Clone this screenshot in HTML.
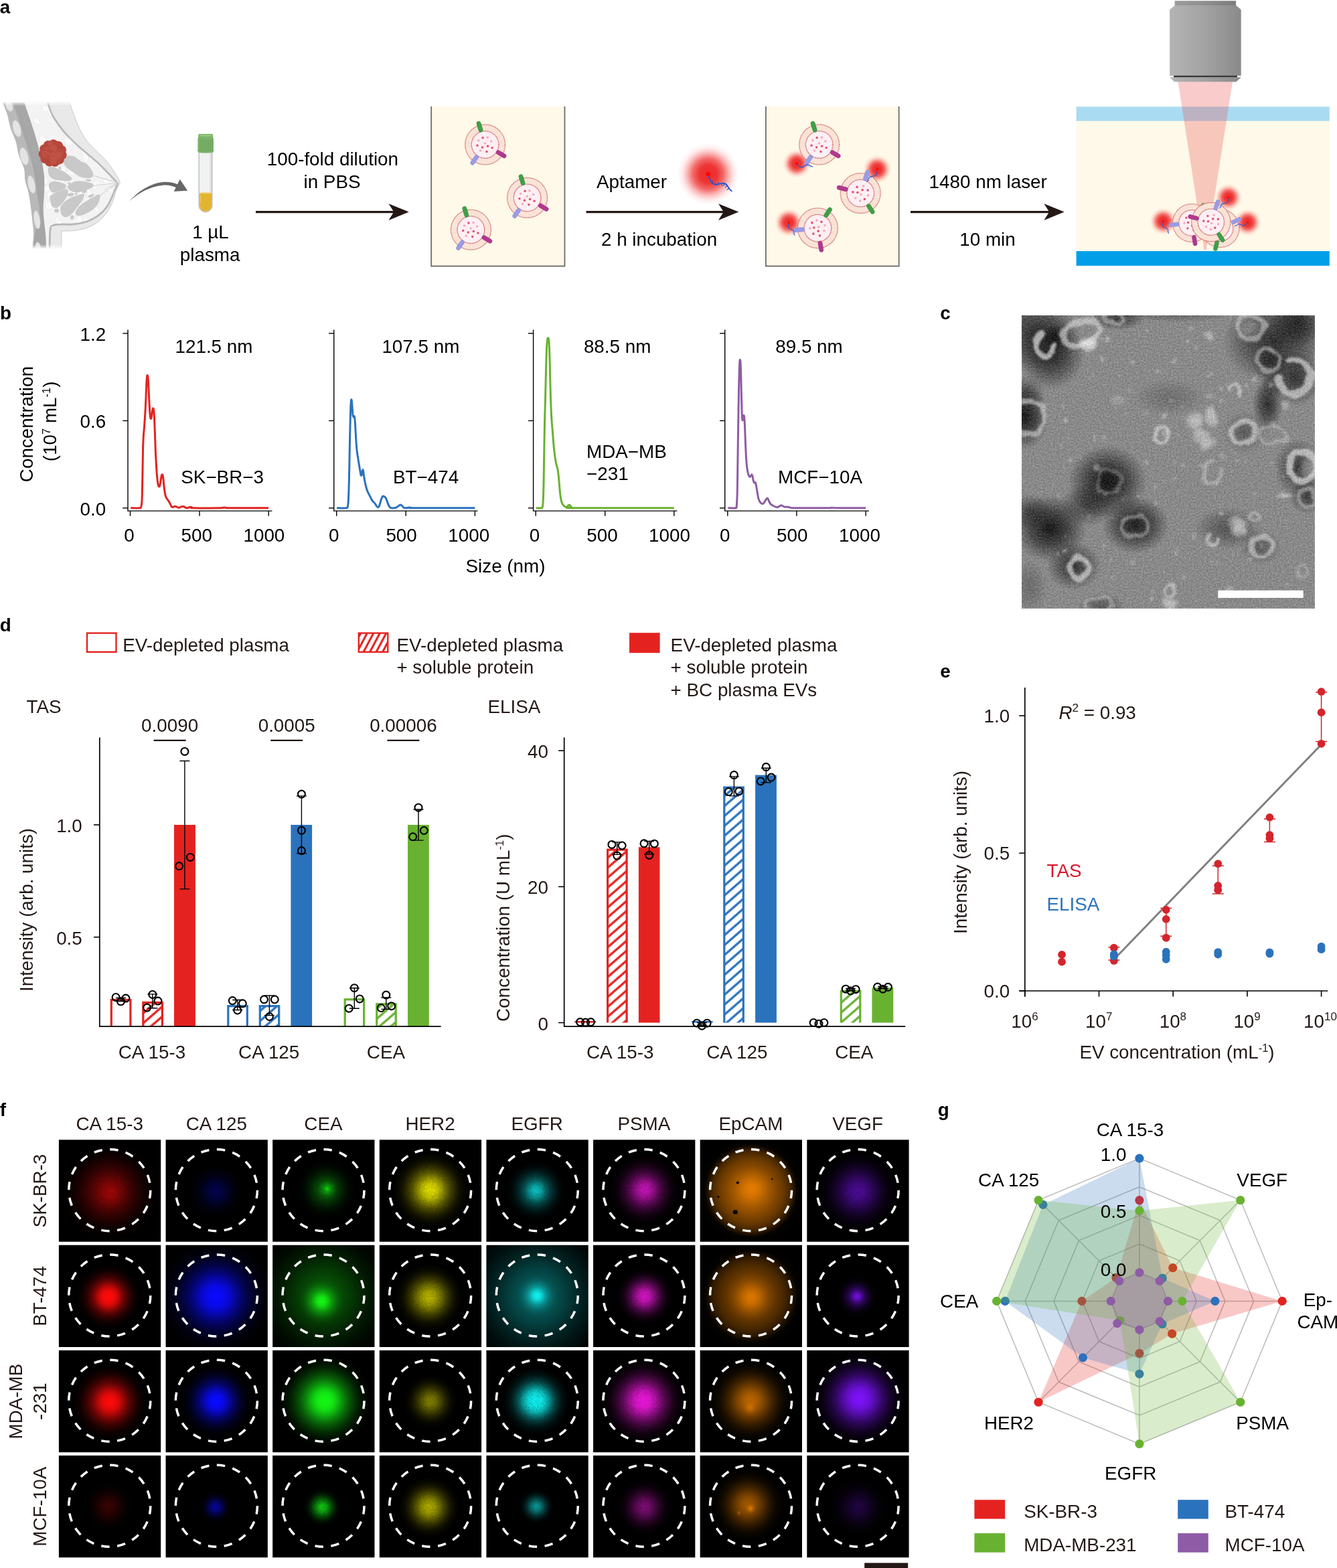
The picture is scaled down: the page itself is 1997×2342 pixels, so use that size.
<!DOCTYPE html>
<html lang="en">
<head>
<meta charset="utf-8">
<title>Figure</title>
<style>
html,body{margin:0;padding:0;background:#fff;}
body{width:1997px;height:2342px;overflow:hidden;}
svg{display:block;}
</style>
</head>
<body>
<svg width="1997" height="2342" viewBox="0 0 1997 2342" font-family="'Liberation Sans', sans-serif" font-size="27.8">
<defs>
<radialGradient id="glow"><stop offset="0" stop-color="#ec2828" stop-opacity="1"/><stop offset="0.3" stop-color="#ec2c2c" stop-opacity="0.95"/><stop offset="0.5" stop-color="#ee3030" stop-opacity="0.72"/><stop offset="0.7" stop-color="#f03838" stop-opacity="0.32"/><stop offset="0.85" stop-color="#f44" stop-opacity="0.1"/><stop offset="1" stop-color="#f55" stop-opacity="0"/></radialGradient>
<linearGradient id="objg" x1="0" x2="1" y1="0" y2="0"><stop offset="0" stop-color="#b4b4b4"/><stop offset="0.5" stop-color="#a2a2a2"/><stop offset="1" stop-color="#8a8a8a"/></linearGradient>
<linearGradient id="fadeT" x1="0" x2="0" y1="0" y2="1"><stop offset="0" stop-color="#fff" stop-opacity="1"/><stop offset="1" stop-color="#fff" stop-opacity="0"/></linearGradient>
<linearGradient id="fadeB" x1="0" x2="0" y1="0" y2="1"><stop offset="0" stop-color="#fff" stop-opacity="0"/><stop offset="1" stop-color="#fff" stop-opacity="1"/></linearGradient>
<linearGradient id="lav" x1="0" x2="0" y1="0" y2="1"><stop offset="0" stop-color="#8f8fdc"/><stop offset="1" stop-color="#a3a4ea"/></linearGradient>
<g id="ev"><circle r="29.9" fill="#fdf0e5"/><circle r="25.1" fill="none" stroke="#f3c6b7" stroke-width="9.2" stroke-dasharray="0.5 1.1"/><circle r="29.9" fill="none" stroke="#c8575a" stroke-width="1.3" stroke-dasharray="1.1 0.75"/><circle r="20.3" fill="#fdeff3" stroke="#c8575a" stroke-width="1.3" stroke-dasharray="1.1 0.6"/><circle cx="-3.5" cy="-10.2" r="1.75" fill="#e14f6e"/><circle cx="-11.7" cy="1.3" r="1.75" fill="#e14f6e"/><circle cx="-4.2" cy="3.9" r="1.75" fill="#e14f6e"/><circle cx="3.9" cy="2.2" r="1.75" fill="#e14f6e"/><circle cx="10.5" cy="4.8" r="1.75" fill="#e14f6e"/><circle cx="2.3" cy="10.4" r="1.75" fill="#e14f6e"/><circle cx="3.6" cy="-10.7" r="1.75" fill="#f5a9bb"/><circle cx="-9.8" cy="-6.2" r="1.75" fill="#f5a9bb"/><circle cx="9.1" cy="-4.9" r="1.75" fill="#f5a9bb"/><circle cx="-0.3" cy="-2.1" r="1.75" fill="#f5a9bb"/><circle cx="-7.2" cy="9.1" r="1.75" fill="#f5a9bb"/><rect x="19.6" y="-3.1" width="16.6" height="6.2" rx="3.1" fill="#3f9f46" stroke="#36873c" stroke-width="0.5" transform="rotate(-106.8)"/><rect x="19.6" y="-3.1" width="16.6" height="6.2" rx="3.1" fill="#b0378f" stroke="#942c78" stroke-width="0.5" transform="rotate(30.7)"/><rect x="19.6" y="-3.1" width="16.6" height="6.2" rx="3.1" fill="#9a9be6" stroke="#8889d6" stroke-width="0.5" transform="rotate(-235.3)"/></g>
<g id="apt"><circle r="1.5" fill="#f00"/><path d="M0.5 1.5C1.5 6 4 8.5 7 7.5C10 6.5 12.5 6 14 8.5C15 10 16 12 17.5 12.5" fill="none" stroke="#1f55d8" stroke-width="0.9"/><path d="M2.5 6.5l1.2-1.6M4.8 8l0.8-1.8M7.2 7.6l0.3-1.9M9.6 6.8l0.6 1.9M11.8 6.6l-0.5 2M13.8 8.4l-1.3 1.4M15.2 10.6l-1.6 0.9" fill="none" stroke="#1f55d8" stroke-width="0.6"/></g>
<clipPath id="temclip"><rect x="1526.1" y="471.1" width="437.8" height="437.8"/></clipPath>
<filter id="temb1" x="-50%" y="-50%" width="200%" height="200%"><feGaussianBlur stdDeviation="9"/></filter>
<filter id="temb2" x="0" y="0" width="100%" height="100%"><feTurbulence type="fractalNoise" baseFrequency="0.045" numOctaves="2" seed="3" result="t"/><feDisplacementMap in="SourceGraphic" in2="t" scale="13" xChannelSelector="R" yChannelSelector="G" result="d"/><feGaussianBlur in="d" stdDeviation="1.6"/></filter>
<filter id="temn" x="0" y="0" width="100%" height="100%" color-interpolation-filters="sRGB"><feTurbulence type="fractalNoise" baseFrequency="0.42" numOctaves="2" seed="11" result="n"/><feColorMatrix in="n" type="matrix" values="1.4 0 0 0 -0.2  1.4 0 0 0 -0.2  1.4 0 0 0 -0.2  0 0 0 0 0.2"/></filter>
<radialGradient id="temd"><stop offset="0" stop-color="#000" stop-opacity="1"/><stop offset="0.5" stop-color="#000" stop-opacity="0.6"/><stop offset="1" stop-color="#000" stop-opacity="0"/></radialGradient>
<radialGradient id="teml"><stop offset="0" stop-color="#fff" stop-opacity="1"/><stop offset="0.6" stop-color="#fff" stop-opacity="0.7"/><stop offset="1" stop-color="#fff" stop-opacity="0"/></radialGradient>
<pattern id="h0" width="30" height="11.2" patternUnits="userSpaceOnUse" patternTransform="rotate(-41)"><rect width="30" height="11.2" fill="#fff"/><rect y="4" width="30" height="3.3" fill="#e42320"/></pattern>
<pattern id="h1" width="30" height="11.2" patternUnits="userSpaceOnUse" patternTransform="rotate(-41)"><rect width="30" height="11.2" fill="#fff"/><rect y="4" width="30" height="3.3" fill="#2b72bd"/></pattern>
<pattern id="h2" width="30" height="11.2" patternUnits="userSpaceOnUse" patternTransform="rotate(-41)"><rect width="30" height="11.2" fill="#fff"/><rect y="4" width="30" height="3.3" fill="#69b231"/></pattern>
<pattern id="hl" width="30" height="8.4" patternUnits="userSpaceOnUse" patternTransform="rotate(-62)"><rect width="30" height="8.4" fill="#fff"/><rect y="2.6" width="30" height="3.1" fill="#e42320"/></pattern>
<radialGradient id="fr"><stop offset="0" stop-color="#fa0a0a" stop-opacity="1"/><stop offset="0.1" stop-color="#fa0a0a" stop-opacity="0.96"/><stop offset="0.2" stop-color="#fa0a0a" stop-opacity="0.86"/><stop offset="0.3" stop-color="#fa0a0a" stop-opacity="0.71"/><stop offset="0.4" stop-color="#fa0a0a" stop-opacity="0.55"/><stop offset="0.5" stop-color="#fa0a0a" stop-opacity="0.39"/><stop offset="0.6" stop-color="#fa0a0a" stop-opacity="0.26"/><stop offset="0.7" stop-color="#fa0a0a" stop-opacity="0.15"/><stop offset="0.8" stop-color="#fa0a0a" stop-opacity="0.07"/><stop offset="0.9" stop-color="#fa0a0a" stop-opacity="0.03"/><stop offset="1" stop-color="#fa0a0a" stop-opacity="0"/></radialGradient>
<radialGradient id="fb"><stop offset="0" stop-color="#0a0aff" stop-opacity="1"/><stop offset="0.1" stop-color="#0a0aff" stop-opacity="0.96"/><stop offset="0.2" stop-color="#0a0aff" stop-opacity="0.86"/><stop offset="0.3" stop-color="#0a0aff" stop-opacity="0.71"/><stop offset="0.4" stop-color="#0a0aff" stop-opacity="0.55"/><stop offset="0.5" stop-color="#0a0aff" stop-opacity="0.39"/><stop offset="0.6" stop-color="#0a0aff" stop-opacity="0.26"/><stop offset="0.7" stop-color="#0a0aff" stop-opacity="0.15"/><stop offset="0.8" stop-color="#0a0aff" stop-opacity="0.07"/><stop offset="0.9" stop-color="#0a0aff" stop-opacity="0.03"/><stop offset="1" stop-color="#0a0aff" stop-opacity="0"/></radialGradient>
<radialGradient id="fg"><stop offset="0" stop-color="#14f514" stop-opacity="1"/><stop offset="0.1" stop-color="#14f514" stop-opacity="0.96"/><stop offset="0.2" stop-color="#14f514" stop-opacity="0.86"/><stop offset="0.3" stop-color="#14f514" stop-opacity="0.71"/><stop offset="0.4" stop-color="#14f514" stop-opacity="0.55"/><stop offset="0.5" stop-color="#14f514" stop-opacity="0.39"/><stop offset="0.6" stop-color="#14f514" stop-opacity="0.26"/><stop offset="0.7" stop-color="#14f514" stop-opacity="0.15"/><stop offset="0.8" stop-color="#14f514" stop-opacity="0.07"/><stop offset="0.9" stop-color="#14f514" stop-opacity="0.03"/><stop offset="1" stop-color="#14f514" stop-opacity="0"/></radialGradient>
<radialGradient id="fy"><stop offset="0" stop-color="#f4f000" stop-opacity="1"/><stop offset="0.1" stop-color="#f4f000" stop-opacity="0.96"/><stop offset="0.2" stop-color="#f4f000" stop-opacity="0.86"/><stop offset="0.3" stop-color="#f4f000" stop-opacity="0.71"/><stop offset="0.4" stop-color="#f4f000" stop-opacity="0.55"/><stop offset="0.5" stop-color="#f4f000" stop-opacity="0.39"/><stop offset="0.6" stop-color="#f4f000" stop-opacity="0.26"/><stop offset="0.7" stop-color="#f4f000" stop-opacity="0.15"/><stop offset="0.8" stop-color="#f4f000" stop-opacity="0.07"/><stop offset="0.9" stop-color="#f4f000" stop-opacity="0.03"/><stop offset="1" stop-color="#f4f000" stop-opacity="0"/></radialGradient>
<radialGradient id="fc"><stop offset="0" stop-color="#10f0f0" stop-opacity="1"/><stop offset="0.1" stop-color="#10f0f0" stop-opacity="0.96"/><stop offset="0.2" stop-color="#10f0f0" stop-opacity="0.86"/><stop offset="0.3" stop-color="#10f0f0" stop-opacity="0.71"/><stop offset="0.4" stop-color="#10f0f0" stop-opacity="0.55"/><stop offset="0.5" stop-color="#10f0f0" stop-opacity="0.39"/><stop offset="0.6" stop-color="#10f0f0" stop-opacity="0.26"/><stop offset="0.7" stop-color="#10f0f0" stop-opacity="0.15"/><stop offset="0.8" stop-color="#10f0f0" stop-opacity="0.07"/><stop offset="0.9" stop-color="#10f0f0" stop-opacity="0.03"/><stop offset="1" stop-color="#10f0f0" stop-opacity="0"/></radialGradient>
<radialGradient id="fm"><stop offset="0" stop-color="#ee18dc" stop-opacity="1"/><stop offset="0.1" stop-color="#ee18dc" stop-opacity="0.96"/><stop offset="0.2" stop-color="#ee18dc" stop-opacity="0.86"/><stop offset="0.3" stop-color="#ee18dc" stop-opacity="0.71"/><stop offset="0.4" stop-color="#ee18dc" stop-opacity="0.55"/><stop offset="0.5" stop-color="#ee18dc" stop-opacity="0.39"/><stop offset="0.6" stop-color="#ee18dc" stop-opacity="0.26"/><stop offset="0.7" stop-color="#ee18dc" stop-opacity="0.15"/><stop offset="0.8" stop-color="#ee18dc" stop-opacity="0.07"/><stop offset="0.9" stop-color="#ee18dc" stop-opacity="0.03"/><stop offset="1" stop-color="#ee18dc" stop-opacity="0"/></radialGradient>
<radialGradient id="fo"><stop offset="0" stop-color="#ff8a00" stop-opacity="1"/><stop offset="0.1" stop-color="#ff8a00" stop-opacity="0.96"/><stop offset="0.2" stop-color="#ff8a00" stop-opacity="0.86"/><stop offset="0.3" stop-color="#ff8a00" stop-opacity="0.71"/><stop offset="0.4" stop-color="#ff8a00" stop-opacity="0.55"/><stop offset="0.5" stop-color="#ff8a00" stop-opacity="0.39"/><stop offset="0.6" stop-color="#ff8a00" stop-opacity="0.26"/><stop offset="0.7" stop-color="#ff8a00" stop-opacity="0.15"/><stop offset="0.8" stop-color="#ff8a00" stop-opacity="0.07"/><stop offset="0.9" stop-color="#ff8a00" stop-opacity="0.03"/><stop offset="1" stop-color="#ff8a00" stop-opacity="0"/></radialGradient>
<radialGradient id="fv"><stop offset="0" stop-color="#7c12f8" stop-opacity="1"/><stop offset="0.1" stop-color="#7c12f8" stop-opacity="0.96"/><stop offset="0.2" stop-color="#7c12f8" stop-opacity="0.86"/><stop offset="0.3" stop-color="#7c12f8" stop-opacity="0.71"/><stop offset="0.4" stop-color="#7c12f8" stop-opacity="0.55"/><stop offset="0.5" stop-color="#7c12f8" stop-opacity="0.39"/><stop offset="0.6" stop-color="#7c12f8" stop-opacity="0.26"/><stop offset="0.7" stop-color="#7c12f8" stop-opacity="0.15"/><stop offset="0.8" stop-color="#7c12f8" stop-opacity="0.07"/><stop offset="0.9" stop-color="#7c12f8" stop-opacity="0.03"/><stop offset="1" stop-color="#7c12f8" stop-opacity="0"/></radialGradient>
<radialGradient id="do"><stop offset="0" stop-color="#ff8a00" stop-opacity="1"/><stop offset="0.45" stop-color="#ff8a00" stop-opacity="0.9"/><stop offset="0.7" stop-color="#ff8a00" stop-opacity="0.72"/><stop offset="0.85" stop-color="#ff8a00" stop-opacity="0.5"/><stop offset="0.93" stop-color="#ff8a00" stop-opacity="0.25"/><stop offset="1" stop-color="#ff8a00" stop-opacity="0"/></radialGradient>
<radialGradient id="dg"><stop offset="0" stop-color="#14f514" stop-opacity="1"/><stop offset="0.45" stop-color="#14f514" stop-opacity="0.9"/><stop offset="0.7" stop-color="#14f514" stop-opacity="0.72"/><stop offset="0.85" stop-color="#14f514" stop-opacity="0.5"/><stop offset="0.93" stop-color="#14f514" stop-opacity="0.25"/><stop offset="1" stop-color="#14f514" stop-opacity="0"/></radialGradient>
<radialGradient id="dc"><stop offset="0" stop-color="#10f0f0" stop-opacity="1"/><stop offset="0.45" stop-color="#10f0f0" stop-opacity="0.9"/><stop offset="0.7" stop-color="#10f0f0" stop-opacity="0.72"/><stop offset="0.85" stop-color="#10f0f0" stop-opacity="0.5"/><stop offset="0.93" stop-color="#10f0f0" stop-opacity="0.25"/><stop offset="1" stop-color="#10f0f0" stop-opacity="0"/></radialGradient>
<clipPath id="t00"><rect x="87.9" y="1702.4" width="152.3" height="152.3"/></clipPath>
<clipPath id="t01"><rect x="247.53" y="1702.4" width="152.3" height="152.3"/></clipPath>
<clipPath id="t02"><rect x="407.16" y="1702.4" width="152.3" height="152.3"/></clipPath>
<clipPath id="t03"><rect x="566.79" y="1702.4" width="152.3" height="152.3"/></clipPath>
<clipPath id="t04"><rect x="726.42" y="1702.4" width="152.3" height="152.3"/></clipPath>
<clipPath id="t05"><rect x="886.05" y="1702.4" width="152.3" height="152.3"/></clipPath>
<clipPath id="t06"><rect x="1045.68" y="1702.4" width="152.3" height="152.3"/></clipPath>
<clipPath id="t07"><rect x="1205.31" y="1702.4" width="152.3" height="152.3"/></clipPath>
<clipPath id="t10"><rect x="87.9" y="1859.7" width="152.3" height="152.3"/></clipPath>
<clipPath id="t11"><rect x="247.53" y="1859.7" width="152.3" height="152.3"/></clipPath>
<clipPath id="t12"><rect x="407.16" y="1859.7" width="152.3" height="152.3"/></clipPath>
<clipPath id="t13"><rect x="566.79" y="1859.7" width="152.3" height="152.3"/></clipPath>
<clipPath id="t14"><rect x="726.42" y="1859.7" width="152.3" height="152.3"/></clipPath>
<clipPath id="t15"><rect x="886.05" y="1859.7" width="152.3" height="152.3"/></clipPath>
<clipPath id="t16"><rect x="1045.68" y="1859.7" width="152.3" height="152.3"/></clipPath>
<clipPath id="t17"><rect x="1205.31" y="1859.7" width="152.3" height="152.3"/></clipPath>
<clipPath id="t20"><rect x="87.9" y="2016.9" width="152.3" height="152.3"/></clipPath>
<clipPath id="t21"><rect x="247.53" y="2016.9" width="152.3" height="152.3"/></clipPath>
<clipPath id="t22"><rect x="407.16" y="2016.9" width="152.3" height="152.3"/></clipPath>
<clipPath id="t23"><rect x="566.79" y="2016.9" width="152.3" height="152.3"/></clipPath>
<clipPath id="t24"><rect x="726.42" y="2016.9" width="152.3" height="152.3"/></clipPath>
<clipPath id="t25"><rect x="886.05" y="2016.9" width="152.3" height="152.3"/></clipPath>
<clipPath id="t26"><rect x="1045.68" y="2016.9" width="152.3" height="152.3"/></clipPath>
<clipPath id="t27"><rect x="1205.31" y="2016.9" width="152.3" height="152.3"/></clipPath>
<clipPath id="t30"><rect x="87.9" y="2174" width="152.3" height="152.3"/></clipPath>
<clipPath id="t31"><rect x="247.53" y="2174" width="152.3" height="152.3"/></clipPath>
<clipPath id="t32"><rect x="407.16" y="2174" width="152.3" height="152.3"/></clipPath>
<clipPath id="t33"><rect x="566.79" y="2174" width="152.3" height="152.3"/></clipPath>
<clipPath id="t34"><rect x="726.42" y="2174" width="152.3" height="152.3"/></clipPath>
<clipPath id="t35"><rect x="886.05" y="2174" width="152.3" height="152.3"/></clipPath>
<clipPath id="t36"><rect x="1045.68" y="2174" width="152.3" height="152.3"/></clipPath>
<clipPath id="t37"><rect x="1205.31" y="2174" width="152.3" height="152.3"/></clipPath>
<filter id="grain" x="0" y="0" width="100%" height="100%" color-interpolation-filters="sRGB"><feTurbulence type="fractalNoise" baseFrequency="0.9" numOctaves="2" seed="7" result="n"/><feColorMatrix in="n" type="matrix" values="0 0 0 0 0  0 0 0 0 0  0 0 0 0 0  1.3 0 0 0 0.38" result="a"/><feComposite in="SourceGraphic" in2="a" operator="in"/></filter>
</defs>
<rect width="1997" height="2342" fill="#fff"/>
<g fill="#231815">
<g id="panel-a">
<text x="-0.2" y="20.1" font-weight="bold" fill="#000">a</text>
<g transform="translate(0 145) scale(0.11344)"><path d="M915 70C922.5 91.67 940.83 148.33 960 200C979.17 251.67 1001.67 320 1030 380C1058.33 440 1091.67 506.67 1130 560C1168.33 613.33 1216.67 655 1260 700C1303.33 745 1353.33 788.33 1390 830C1426.67 871.67 1454.17 913.33 1480 950C1505.83 986.67 1529.67 1024.17 1545 1050C1560.33 1075.83 1566.5 1090.83 1572 1105C1577.5 1119.17 1581.17 1122.83 1578 1135C1574.83 1147.17 1561.83 1159.67 1553 1178C1544.17 1196.33 1537.17 1210.08 1525 1245C1512.83 1279.92 1500.83 1340.07 1480 1387.53C1459.17 1434.99 1433.33 1486 1400 1529.76C1366.67 1573.53 1325 1617.29 1280 1650.12C1235 1682.94 1183.33 1708.47 1130 1726.71C1076.67 1744.94 1011.67 1753.15 960 1759.53C908.33 1765.91 845 1760.83 820 1765C795 1769.17 811.67 1746.54 810 1784.54C808.33 1822.54 810 1958.26 810 1993L430 1993C432.5 1960.43 445 1858.37 445 1797.57C445 1736.78 435.83 1685.63 430 1628.24C424.17 1570.84 418.33 1514.55 410 1453.18C401.67 1391.8 392.5 1318.86 380 1260C367.5 1201.14 345 1153.33 335 1100C325 1046.67 334.17 996.67 320 940C305.83 883.33 268.33 820 250 760C231.67 700 228.33 640 210 580C191.67 520 158.33 458.33 140 400C121.67 341.67 115.83 282.5 100 230C84.17 177.5 55 111.67 45 85C35 58.33 40.83 72.5 40 70Z" fill="#e9e9e9" stroke="#bcbcbc" stroke-width="7" stroke-linejoin="round"/><path d="M640 70C648.33 93.33 668.33 165 690 210C711.67 255 738.33 295 770 340C801.67 385 840 435 880 480C920 525 963.33 566.67 1010 610C1056.67 653.33 1111.67 698.33 1160 740C1208.33 781.67 1256.67 820 1300 860C1343.33 900 1385.83 945 1420 980C1454.17 1015 1483.33 1046.33 1505 1070C1526.67 1093.67 1541.5 1108.33 1550 1122C1558.5 1135.67 1561.83 1131.5 1556 1152C1550.17 1172.5 1531 1207.57 1515 1245C1499 1282.43 1480.83 1336.42 1460 1376.59C1439.17 1416.75 1420 1451.35 1390 1486C1360 1520.65 1323.33 1556.21 1280 1584.47C1236.67 1612.74 1183.33 1638.26 1130 1655.59C1076.67 1672.91 1015 1682.94 960 1688.41C905 1693.88 841.67 1686.59 800 1688.41C758.33 1690.24 730.83 1691.15 710 1699.35C689.17 1707.56 682.5 1688.71 675 1737.65C667.5 1786.59 666.67 1950.44 665 1993L430 1993C432.5 1960.43 445 1858.37 445 1797.57C445 1736.78 435.83 1685.63 430 1628.24C424.17 1570.84 418.33 1514.55 410 1453.18C401.67 1391.8 392.5 1318.86 380 1260C367.5 1201.14 345 1153.33 335 1100C325 1046.67 334.17 996.67 320 940C305.83 883.33 268.33 820 250 760C231.67 700 228.33 640 210 580C191.67 520 158.33 458.33 140 400C121.67 341.67 115.83 282.5 100 230C84.17 177.5 55 111.67 45 85C35 58.33 40.83 72.5 40 70Z" fill="#b8b8b8" stroke-linejoin="round"/><path d="M617.4 70C625.89 95.07 646.21 173.11 668.38 220.41C690.54 267.71 718.09 307.89 750.37 353.81C782.65 399.73 821.51 450.32 862.06 495.94C902.61 541.57 946.62 583.88 993.67 627.59C1040.71 671.29 1095.99 716.5 1144.33 758.18C1192.67 799.85 1240.64 837.87 1283.72 877.64C1326.8 917.4 1368.9 962 1402.83 996.76C1436.76 1031.53 1466.17 1063.22 1487.3 1086.21C1508.43 1109.19 1522.02 1124.8 1529.62 1134.68C1537.22 1144.55 1539.01 1128.66 1532.92 1145.43C1526.82 1162.21 1508.68 1198.93 1493.04 1235.33C1477.39 1271.73 1459.1 1325.07 1439.02 1363.84C1418.94 1402.6 1401.13 1434.93 1372.58 1467.94C1344.03 1500.95 1309.28 1534.84 1267.71 1561.92C1226.14 1588.99 1174.82 1613.69 1123.17 1630.42C1071.52 1647.14 1011.85 1656.97 957.83 1662.26C903.81 1667.55 841.7 1660.11 799.04 1662.17C756.38 1664.24 726.47 1662.89 701.87 1674.65C677.27 1686.4 661.57 1679.65 651.43 1732.71C641.29 1785.77 642.76 1949.62 641.03 1993L430 1993C432.5 1960.43 445 1858.37 445 1797.57C445 1736.78 435.83 1685.63 430 1628.24C424.17 1570.84 418.33 1514.55 410 1453.18C401.67 1391.8 392.5 1318.86 380 1260C367.5 1201.14 345 1153.33 335 1100C325 1046.67 334.17 996.67 320 940C305.83 883.33 268.33 820 250 760C231.67 700 228.33 640 210 580C191.67 520 158.33 458.33 140 400C121.67 341.67 115.83 282.5 100 230C84.17 177.5 55 111.67 45 85C35 58.33 40.83 72.5 40 70Z" fill="#f3f3f3" stroke-linejoin="round"/><clipPath id="fatc"><path d="M617.4 70C625.89 95.07 646.21 173.11 668.38 220.41C690.54 267.71 718.09 307.89 750.37 353.81C782.65 399.73 821.51 450.32 862.06 495.94C902.61 541.57 946.62 583.88 993.67 627.59C1040.71 671.29 1095.99 716.5 1144.33 758.18C1192.67 799.85 1240.64 837.87 1283.72 877.64C1326.8 917.4 1368.9 962 1402.83 996.76C1436.76 1031.53 1466.17 1063.22 1487.3 1086.21C1508.43 1109.19 1522.02 1124.8 1529.62 1134.68C1537.22 1144.55 1539.01 1128.66 1532.92 1145.43C1526.82 1162.21 1508.68 1198.93 1493.04 1235.33C1477.39 1271.73 1459.1 1325.07 1439.02 1363.84C1418.94 1402.6 1401.13 1434.93 1372.58 1467.94C1344.03 1500.95 1309.28 1534.84 1267.71 1561.92C1226.14 1588.99 1174.82 1613.69 1123.17 1630.42C1071.52 1647.14 1011.85 1656.97 957.83 1662.26C903.81 1667.55 841.7 1660.11 799.04 1662.17C756.38 1664.24 726.47 1662.89 701.87 1674.65C677.27 1686.4 661.57 1679.65 651.43 1732.71C641.29 1785.77 642.76 1949.62 641.03 1993L610 1993C608.33 1960.43 605 1858.37 600 1797.57C595 1736.78 585 1683.81 580 1628.24C575 1572.66 570 1518.82 570 1464.12C570 1409.41 577.5 1360.69 580 1300C582.5 1239.31 586.67 1158.33 585 1100C583.33 1041.67 577.5 1000 570 950C562.5 900 553.33 858.33 540 800C526.67 741.67 506.67 661.67 490 600C473.33 538.33 458.33 488.33 440 430C421.67 371.67 400 310 380 250C360 190 330 100 320 70Z"/></clipPath><g clip-path="url(#fatc)" fill="#fafafa" stroke="#e6e6e6" stroke-width="5"><ellipse cx="1084" cy="1284" rx="40" ry="68" transform="rotate(-15 1084 1284)"/><ellipse cx="1374" cy="194" rx="34" ry="68" transform="rotate(-21 1374 194)"/><ellipse cx="1353" cy="323" rx="34" ry="47" transform="rotate(-27 1353 323)"/><ellipse cx="1036" cy="170" rx="29" ry="48" transform="rotate(-5 1036 170)"/><ellipse cx="1222" cy="394" rx="40" ry="44" transform="rotate(-22 1222 394)"/><ellipse cx="602" cy="152" rx="42" ry="46" transform="rotate(-47 602 152)"/><ellipse cx="1432" cy="1484" rx="30" ry="68" transform="rotate(-27 1432 1484)"/><ellipse cx="1137" cy="463" rx="43" ry="60" transform="rotate(-2 1137 463)"/><ellipse cx="1346" cy="607" rx="32" ry="44" transform="rotate(-51 1346 607)"/><ellipse cx="543" cy="611" rx="37" ry="40" transform="rotate(-19 543 611)"/><ellipse cx="807" cy="624" rx="41" ry="54" transform="rotate(-41 807 624)"/><ellipse cx="946" cy="1228" rx="26" ry="69" transform="rotate(-58 946 1228)"/><ellipse cx="1207" cy="1442" rx="25" ry="63" transform="rotate(-38 1207 1442)"/><ellipse cx="1041" cy="163" rx="25" ry="45" transform="rotate(-2 1041 163)"/><ellipse cx="670" cy="1306" rx="43" ry="68" transform="rotate(-39 670 1306)"/><ellipse cx="824" cy="952" rx="40" ry="43" transform="rotate(-15 824 952)"/><ellipse cx="1253" cy="1465" rx="25" ry="68" transform="rotate(-54 1253 1465)"/><ellipse cx="810" cy="1084" rx="43" ry="50" transform="rotate(-4 810 1084)"/><ellipse cx="1008" cy="628" rx="31" ry="45" transform="rotate(-55 1008 628)"/><ellipse cx="624" cy="1204" rx="44" ry="44" transform="rotate(-57 624 1204)"/><ellipse cx="1437" cy="966" rx="33" ry="47" transform="rotate(-24 1437 966)"/><ellipse cx="1281" cy="847" rx="33" ry="41" transform="rotate(-5 1281 847)"/><ellipse cx="511" cy="905" rx="41" ry="43" transform="rotate(-16 511 905)"/><ellipse cx="1401" cy="1114" rx="40" ry="43" transform="rotate(-33 1401 1114)"/><ellipse cx="624" cy="1442" rx="30" ry="53" transform="rotate(0 624 1442)"/><ellipse cx="1306" cy="1643" rx="34" ry="54" transform="rotate(-16 1306 1643)"/><ellipse cx="944" cy="595" rx="33" ry="44" transform="rotate(-37 944 595)"/><ellipse cx="1438" cy="1618" rx="37" ry="54" transform="rotate(-39 1438 1618)"/><ellipse cx="566" cy="566" rx="40" ry="66" transform="rotate(-38 566 566)"/><ellipse cx="1242" cy="1335" rx="38" ry="59" transform="rotate(-14 1242 1335)"/><ellipse cx="832" cy="1227" rx="30" ry="54" transform="rotate(-13 832 1227)"/><ellipse cx="1150" cy="599" rx="43" ry="59" transform="rotate(-25 1150 599)"/><ellipse cx="491" cy="986" rx="30" ry="60" transform="rotate(-32 491 986)"/><ellipse cx="1272" cy="1140" rx="40" ry="50" transform="rotate(-21 1272 1140)"/><ellipse cx="1195" cy="1417" rx="32" ry="65" transform="rotate(-7 1195 1417)"/><ellipse cx="1147" cy="1643" rx="44" ry="55" transform="rotate(-28 1147 1643)"/><ellipse cx="641" cy="1430" rx="43" ry="54" transform="rotate(-18 641 1430)"/><ellipse cx="1178" cy="1267" rx="28" ry="63" transform="rotate(-25 1178 1267)"/><ellipse cx="1125" cy="793" rx="37" ry="63" transform="rotate(-21 1125 793)"/><ellipse cx="1178" cy="192" rx="28" ry="53" transform="rotate(-20 1178 192)"/><ellipse cx="692" cy="1199" rx="37" ry="41" transform="rotate(-31 692 1199)"/><ellipse cx="699" cy="232" rx="27" ry="49" transform="rotate(-49 699 232)"/><ellipse cx="667" cy="204" rx="34" ry="51" transform="rotate(-23 667 204)"/><ellipse cx="1052" cy="513" rx="43" ry="40" transform="rotate(-35 1052 513)"/><ellipse cx="750" cy="777" rx="27" ry="64" transform="rotate(-37 750 777)"/><ellipse cx="514" cy="1088" rx="26" ry="56" transform="rotate(-39 514 1088)"/><ellipse cx="1043" cy="1616" rx="41" ry="52" transform="rotate(-11 1043 1616)"/><ellipse cx="1103" cy="715" rx="27" ry="57" transform="rotate(-26 1103 715)"/><ellipse cx="1408" cy="1631" rx="37" ry="50" transform="rotate(-6 1408 1631)"/><ellipse cx="480" cy="315" rx="36" ry="58" transform="rotate(-51 480 315)"/><ellipse cx="1090" cy="1513" rx="32" ry="52" transform="rotate(-46 1090 1513)"/><ellipse cx="762" cy="1637" rx="32" ry="68" transform="rotate(-5 762 1637)"/><ellipse cx="1057" cy="547" rx="44" ry="54" transform="rotate(-35 1057 547)"/><ellipse cx="789" cy="1655" rx="34" ry="48" transform="rotate(-31 789 1655)"/><ellipse cx="598" cy="1101" rx="33" ry="48" transform="rotate(-13 598 1101)"/><ellipse cx="1282" cy="170" rx="35" ry="48" transform="rotate(-3 1282 170)"/><ellipse cx="1238" cy="525" rx="30" ry="44" transform="rotate(0 1238 525)"/><ellipse cx="764" cy="1080" rx="34" ry="59" transform="rotate(-23 764 1080)"/><ellipse cx="1201" cy="330" rx="40" ry="49" transform="rotate(-27 1201 330)"/><ellipse cx="806" cy="604" rx="35" ry="53" transform="rotate(-38 806 604)"/><ellipse cx="1202" cy="1053" rx="25" ry="47" transform="rotate(-32 1202 1053)"/><ellipse cx="1369" cy="1508" rx="35" ry="40" transform="rotate(-13 1369 1508)"/><ellipse cx="894" cy="1030" rx="39" ry="58" transform="rotate(-31 894 1030)"/><ellipse cx="1364" cy="739" rx="32" ry="65" transform="rotate(-48 1364 739)"/><ellipse cx="767" cy="1419" rx="26" ry="65" transform="rotate(-18 767 1419)"/><ellipse cx="899" cy="588" rx="40" ry="67" transform="rotate(-51 899 588)"/><ellipse cx="944" cy="990" rx="34" ry="49" transform="rotate(-50 944 990)"/><ellipse cx="1048" cy="1392" rx="26" ry="46" transform="rotate(-10 1048 1392)"/><ellipse cx="1247" cy="1165" rx="25" ry="61" transform="rotate(-1 1247 1165)"/><ellipse cx="1448" cy="1222" rx="25" ry="65" transform="rotate(-46 1448 1222)"/></g><path d="M320 70C330 100 360 190 380 250C400 310 421.67 371.67 440 430C458.33 488.33 473.33 538.33 490 600C506.67 661.67 526.67 741.67 540 800C553.33 858.33 562.5 900 570 950C577.5 1000 583.33 1041.67 585 1100C586.67 1158.33 582.5 1239.31 580 1300C577.5 1360.69 570 1409.41 570 1464.12C570 1518.82 575 1572.66 580 1628.24C585 1683.81 595 1736.78 600 1797.57C605 1858.37 608.33 1960.43 610 1993L430 1993C432.5 1960.43 445 1858.37 445 1797.57C445 1736.78 435.83 1685.63 430 1628.24C424.17 1570.84 418.33 1514.55 410 1453.18C401.67 1391.8 392.5 1318.86 380 1260C367.5 1201.14 345 1153.33 335 1100C325 1046.67 334.17 996.67 320 940C305.83 883.33 268.33 820 250 760C231.67 700 228.33 640 210 580C191.67 520 158.33 458.33 140 400C121.67 341.67 115.83 282.5 100 230C84.17 177.5 55 111.67 45 85C35 58.33 40.83 72.5 40 70Z" fill="#a6a6a6" stroke-linejoin="round"/><path d="M170 70C180 101.67 210 196.67 230 260C250 323.33 270 386.67 290 450C310 513.33 330 576.67 350 640C370 703.33 393.33 770 410 830C426.67 890 440 946.67 450 1000C460 1053.33 463.33 1100 470 1150C476.67 1200 481.67 1247.65 490 1300C498.33 1352.35 518.33 1409.41 520 1464.12C521.67 1518.82 510 1572.66 500 1628.24C490 1683.81 470 1736.78 460 1797.57C450 1858.37 443.33 1960.43 440 1993L430 1993C432.5 1960.43 445 1858.37 445 1797.57C445 1736.78 435.83 1685.63 430 1628.24C424.17 1570.84 418.33 1514.55 410 1453.18C401.67 1391.8 392.5 1318.86 380 1260C367.5 1201.14 345 1153.33 335 1100C325 1046.67 334.17 996.67 320 940C305.83 883.33 268.33 820 250 760C231.67 700 228.33 640 210 580C191.67 520 158.33 458.33 140 400C121.67 341.67 115.83 282.5 100 230C84.17 177.5 55 111.67 45 85C35 58.33 40.83 72.5 40 70Z" fill="#b9b9b9" stroke-linejoin="round"/><path d="M250 70C330 300 420 600 480 900M300 70C380 330 470 640 520 960M200 150C300 420 400 760 450 1000M330 380l90-40M370 520l100-50M420 700l90-30M300 300l70 60M400 620l70 70M440 850l90 20" fill="none" stroke="#bdbdbd" stroke-width="4" opacity="0.6"/><ellipse cx="122" cy="115" rx="44" ry="75" transform="rotate(-18 122 115)" fill="#e4e4e4" stroke="#cfcfcf" stroke-width="6"/><ellipse cx="222" cy="415" rx="50" ry="112" transform="rotate(-15 222 415)" fill="#e4e4e4" stroke="#cfcfcf" stroke-width="6"/><ellipse cx="318" cy="780" rx="52" ry="115" transform="rotate(-14 318 780)" fill="#e4e4e4" stroke="#cfcfcf" stroke-width="6"/><ellipse cx="415" cy="1150" rx="46" ry="118" transform="rotate(-12 415 1150)" fill="#e4e4e4" stroke="#cfcfcf" stroke-width="6"/><ellipse cx="487" cy="1615" rx="40" ry="120" transform="rotate(-8 487 1615)" fill="#e4e4e4" stroke="#cfcfcf" stroke-width="6"/><ellipse cx="500" cy="1985" rx="34" ry="75" transform="rotate(-5 500 1985)" fill="#e4e4e4" stroke="#cfcfcf" stroke-width="6"/><path d="M900 775C913.33 777.5 953.33 777.5 980 790C1006.67 802.5 1035 835 1060 850C1085 865 1108.33 863.33 1130 880C1151.67 896.67 1175 928.33 1190 950C1205 971.67 1216.67 993.33 1220 1010C1223.33 1026.67 1221.67 1041.67 1210 1050C1198.33 1058.33 1176.67 1061.67 1150 1060C1123.33 1058.33 1081.67 1053.33 1050 1040C1018.33 1026.67 986.67 998.33 960 980C933.33 961.67 908.33 946.67 890 930C871.67 913.33 855 900 850 880C845 860 851.67 827.5 860 810C868.33 792.5 893.33 780.83 900 775Z" fill="#c9c9c9" stroke="#c9c9c9" stroke-width="14" stroke-linejoin="round"/><path d="M640 930C650 929.17 676.67 920 700 925C723.33 930 753.33 947.5 780 960C806.67 972.5 836.67 985 860 1000C883.33 1015 906.67 1036.67 920 1050C933.33 1063.33 946.67 1071.67 940 1080C933.33 1088.33 903.33 1098.33 880 1100C856.67 1101.67 826.67 1093.33 800 1090C773.33 1086.67 743.33 1088.33 720 1080C696.67 1071.67 673.33 1056.67 660 1040C646.67 1023.33 643.33 998.33 640 980C636.67 961.67 640 938.33 640 930Z" fill="#c9c9c9" stroke="#c9c9c9" stroke-width="14" stroke-linejoin="round"/><path d="M660 1130C670 1127.5 696.67 1115 720 1115C743.33 1115 776.67 1122.5 800 1130C823.33 1137.5 851.67 1148.33 860 1160C868.33 1171.67 863.33 1188.33 850 1200C836.67 1211.67 805 1221.67 780 1230C755 1238.33 720 1253.33 700 1250C680 1246.67 668.33 1225 660 1210C651.67 1195 650 1173.33 650 1160C650 1146.67 658.33 1135 660 1130Z" fill="#c9c9c9" stroke="#c9c9c9" stroke-width="14" stroke-linejoin="round"/><path d="M920 1150C933.33 1144.17 970 1120.83 1000 1115C1030 1109.17 1066.67 1110.83 1100 1115C1133.33 1119.17 1179.17 1130.83 1200 1140C1220.83 1149.17 1228.33 1160 1225 1170C1221.67 1180 1200.83 1190 1180 1200C1159.17 1210 1130 1221.67 1100 1230C1070 1238.33 1030 1251.67 1000 1250C970 1248.33 937.5 1231.67 920 1220C902.5 1208.33 895 1191.67 895 1180C895 1168.33 915.83 1155 920 1150Z" fill="#c9c9c9" stroke="#c9c9c9" stroke-width="14" stroke-linejoin="round"/><path d="M660 1310.94C670 1304.12 696.67 1281.82 720 1270C743.33 1258.18 775 1248.33 800 1240C825 1231.67 855 1216.67 870 1220C885 1223.33 891.67 1241.2 890 1260C888.33 1278.8 875 1307.92 860 1332.82C845 1357.73 820 1389.35 800 1409.41C780 1429.47 758.33 1449.53 740 1453.18C721.67 1456.82 701.67 1445.88 690 1431.29C678.33 1416.71 675 1385.71 670 1365.65C665 1345.59 661.67 1320.06 660 1310.94Z" fill="#c9c9c9" stroke="#c9c9c9" stroke-width="14" stroke-linejoin="round"/><path d="M800 1453.18C808.33 1442.24 828.33 1407.59 850 1387.53C871.67 1367.47 901.67 1347.41 930 1332.82C958.33 1318.24 991.67 1308.8 1020 1300C1048.33 1291.2 1088.33 1274.53 1100 1280C1111.67 1285.47 1100 1311.25 1090 1332.82C1080 1354.39 1058.33 1383.88 1040 1409.41C1021.67 1434.94 1000 1462.29 980 1486C960 1509.71 941.67 1537.06 920 1551.65C898.33 1566.24 868.33 1577.18 850 1573.53C831.67 1569.88 818.33 1549.82 810 1529.76C801.67 1509.71 801.67 1465.94 800 1453.18Z" fill="#c9c9c9" stroke="#c9c9c9" stroke-width="14" stroke-linejoin="round"/><path d="M1000 1507.88C1010 1495.12 1036.67 1453.18 1060 1431.29C1083.33 1409.41 1111.67 1394.82 1140 1376.59C1168.33 1358.35 1203.33 1336.31 1230 1321.88C1256.67 1307.45 1286.67 1290 1300 1290C1313.33 1290 1313.33 1301.98 1310 1321.88C1306.67 1341.78 1295 1383.88 1280 1409.41C1265 1434.94 1241.67 1456.82 1220 1475.06C1198.33 1493.29 1175 1506.06 1150 1518.82C1125 1531.59 1093.33 1546.18 1070 1551.65C1046.67 1557.12 1021.67 1558.94 1010 1551.65C998.33 1544.35 1001.67 1515.18 1000 1507.88Z" fill="#c9c9c9" stroke="#c9c9c9" stroke-width="14" stroke-linejoin="round"/><ellipse cx="790" cy="935" rx="16" ry="20" transform="rotate(-30 790 935)" fill="#c9c9c9"/><ellipse cx="910" cy="1135" rx="18" ry="16" transform="rotate(0 910 1135)" fill="#c9c9c9"/><ellipse cx="1165" cy="1095" rx="36" ry="15" transform="rotate(5 1165 1095)" fill="#c9c9c9"/><ellipse cx="930" cy="1285" rx="40" ry="22" transform="rotate(-10 930 1285)" fill="#c9c9c9"/><ellipse cx="1110" cy="1245" rx="36" ry="18" transform="rotate(-10 1110 1245)" fill="#c9c9c9"/><ellipse cx="745" cy="1497" rx="30" ry="26" transform="rotate(0 745 1497)" fill="#c9c9c9"/><ellipse cx="950" cy="1585" rx="24" ry="28" transform="rotate(20 950 1585)" fill="#c9c9c9"/><ellipse cx="1000" cy="1275" rx="22" ry="12" transform="rotate(-10 1000 1275)" fill="#c9c9c9"/><ellipse cx="1200" cy="1300" rx="42" ry="18" transform="rotate(-25 1200 1300)" fill="#c9c9c9"/><path d="M1215 1030C1330 1065 1450 1100 1540 1125M1225 1168C1330 1155 1450 1140 1540 1133M1310 1300C1400 1235 1480 1180 1540 1145M1260 1045C1360 1075 1440 1095 1500 1112M1380 1220C1440 1185 1490 1160 1535 1140" fill="none" stroke="#d2d2d2" stroke-width="9" stroke-linecap="round"/><g fill="#b8473c"><circle cx="695" cy="740" r="150"/><circle cx="817" cy="763" r="62"/><circle cx="784" cy="823" r="62"/><circle cx="723" cy="856" r="62"/><circle cx="652" cy="853" r="62"/><circle cx="596" cy="813" r="62"/><circle cx="570" cy="750" r="62"/><circle cx="584" cy="683" r="62"/><circle cx="633" cy="635" r="62"/><circle cx="702" cy="620" r="62"/><circle cx="768" cy="642" r="62"/><circle cx="811" cy="696" r="62"/></g><g fill="#c55a4d" opacity="0.55"><circle cx="689" cy="795" r="37"/><circle cx="625" cy="684" r="31"/><circle cx="785" cy="738" r="35"/><circle cx="696" cy="848" r="39"/><circle cx="714" cy="680" r="42"/><circle cx="729" cy="791" r="47"/><circle cx="596" cy="717" r="43"/><circle cx="768" cy="765" r="41"/><circle cx="683" cy="733" r="47"/><circle cx="600" cy="744" r="47"/><circle cx="660" cy="622" r="37"/><circle cx="701" cy="679" r="48"/><circle cx="693" cy="721" r="32"/><circle cx="708" cy="843" r="38"/></g><g fill="none" stroke="#a03a31" stroke-width="8" opacity="0.6" stroke-linecap="round"><path d="M615 690a40 40 0 0 0 60 30" /><path d="M586 736a40 40 0 0 0 60 30" /><path d="M606 819a40 40 0 0 0 60 30" /><path d="M552 674a40 40 0 0 0 60 30" /><path d="M609 619a40 40 0 0 0 60 30" /><path d="M750 630a40 40 0 0 0 60 30" /><path d="M638 690a40 40 0 0 0 60 30" /><path d="M752 634a40 40 0 0 0 60 30" /><path d="M744 685a40 40 0 0 0 60 30" /><path d="M651 680a40 40 0 0 0 60 30" /></g><rect x="0" y="55" width="1000" height="60" fill="url(#fadeT)"/><rect x="380" y="1940" width="480" height="60" fill="url(#fadeB)"/><rect x="0" y="0" width="1000" height="62" fill="#fff"/><rect x="380" y="1998" width="480" height="80" fill="#fff"/></g>
<path d="M193.58 300.29 C205.35 286.89 222.56 274.21 243.38 271.94 C251.53 271.04 259.68 272.85 265.57 275.57 L263.3 280.09 C256.96 277.38 250.63 276.02 243.38 276.65 C223.46 278.28 206.26 288.7 193.58 300.29Z" fill="#676767"/><path d="M268.74 267.69 L280.14 284.71 L259.68 285.98 Z" fill="#676767"/>
<g transform="translate(0 0.8)"><path d="M297.1 226V306a9.9 9.9 0 0 0 19.8 0V226Z" fill="#f0f1f1" stroke="#9c9c9c" stroke-width="0.9"/><path d="M313.6 228V306a6.6 6.6 0 0 1 -3 5.5a9 9 0 0 0 5.4 -5.5V228Z" fill="#dcdcdc"/><path d="M298 288V306a9 9 0 0 0 18 0V288Z" fill="#e3b42f"/><ellipse cx="307" cy="288" rx="9" ry="1.4" fill="#ecc757"/><path d="M299.6 291V303" stroke="#f2d98a" stroke-width="0.8" fill="none"/><path d="M296.3 200.5q0.3-1 1.2-1.2l19.4 0q0.9 0.2 1.2 1.2l0.1 4.5q0.7 0.4 0.8 1.3v19q-0.3 1.6-2 1.8q-9.8 1.4-19.6 0q-1.7-0.2-2-1.8v-19q0.1-0.9 0.8-1.3Z" fill="#7bb269"/><ellipse cx="307.2" cy="201.6" rx="9.6" ry="1.9" fill="#8fc67c"/><path d="M299 207v15M301.5 207.5v15M304 208v15M306.5 208v15M309 208v15M311.5 208v15M314 207.5v15M316.5 207v15" stroke="#6aa159" stroke-width="0.9" fill="none"/><path d="M295.2 223.5q12 2.2 24 0" stroke="#6aa159" stroke-width="0.8" fill="none"/></g>
<text x="314.5" y="355.9" text-anchor="middle" fill="#000">1 µL</text>
<text x="313.6" y="390.4" text-anchor="middle" fill="#000">plasma</text>
<text x="496.9" y="247" text-anchor="middle" fill="#000">100-fold dilution</text>
<text x="496" y="280.8" text-anchor="middle" fill="#000">in PBS</text>
<path d="M382 316.6H589.3" stroke="#231815" stroke-width="3.4" fill="none"/><path d="M610.8 316.6L580.5 304.3L588.3 316.6L580.5 328.9Z" fill="#231815"/>
<rect x="643.2" y="158.9" width="201.2" height="239.6" fill="#fef9e8"/><path d="M644.15 158.9V397.55H843.45V158.9" fill="none" stroke="#737373" stroke-width="1.9"/>
<use href="#ev" transform="translate(724.6 216)"/>
<use href="#ev" transform="translate(787.6 295.4)"/>
<use href="#ev" transform="translate(703.4 343.2)"/>
<text x="891" y="281.3" fill="#000">Aptamer</text>
<text x="898" y="366.8" fill="#000">2 h incubation</text>
<path d="M875.5 316.6H1081.8" stroke="#231815" stroke-width="3.4" fill="none"/><path d="M1103.3 316.6L1073 304.3L1080.8 316.6L1073 328.9Z" fill="#231815"/>
<circle cx="1057.7" cy="260" r="46" fill="url(#glow)"/>
<use href="#apt" transform="translate(1057.7 260) rotate(0) scale(2.05 2.05)"/>
<rect x="1143" y="158.9" width="200.6" height="239.6" fill="#fef9e8"/><path d="M1143.95 158.9V397.55H1342.65V158.9" fill="none" stroke="#737373" stroke-width="1.9"/>
<circle cx="1190.1" cy="244.4" r="21.5" fill="url(#glow)"/>
<circle cx="1310.3" cy="252.8" r="21.5" fill="url(#glow)"/>
<circle cx="1178.2" cy="332.4" r="21.5" fill="url(#glow)"/>
<use href="#ev" transform="translate(1223.7 216)"/>
<use href="#ev" transform="translate(1285.2 288.6) rotate(164)"/>
<use href="#ev" transform="translate(1221.4 340.7) rotate(50)"/>
<use href="#apt" transform="translate(1190.1 244.4) rotate(-25) scale(1.15 1.15)"/>
<use href="#apt" transform="translate(1310.3 252.8) rotate(165) scale(1.15 -1.15)"/>
<use href="#apt" transform="translate(1178.2 332.4) rotate(30) scale(1 1)"/>
<text x="1475.7" y="280.6" text-anchor="middle" fill="#000">1480 nm laser</text>
<text x="1475" y="366.8" text-anchor="middle" fill="#000">10 min</text>
<path d="M1360 316.6H1568.2" stroke="#231815" stroke-width="3.4" fill="none"/><path d="M1589.7 316.6L1559.4 304.3L1567.2 316.6L1559.4 328.9Z" fill="#231815"/>
<rect x="1607.6" y="180" width="378.2" height="196" fill="#fef9e8"/>
<rect x="1607.6" y="159.4" width="378.2" height="21.3" fill="#a9dbf2"/>
<rect x="1607.6" y="375.1" width="378.2" height="21.8" fill="#009fe8"/>
<path d="M1754.7 1.2H1846.1V8L1853.7 14.5V112.9H1747.1V14.5L1754.7 8Z" fill="url(#objg)"/>
<rect x="1754.7" y="1.2" width="91.4" height="6.8" fill="#000" opacity="0.12"/>
<path d="M1747.1 115.4H1853.7L1846.5 122.2H1754.3Z" fill="url(#objg)"/>
<rect x="1753" y="112.9" width="95" height="2.6" fill="#3a3a3a"/>
<path d="M1759.5 122.2H1841L1801.6 373.5H1798.6Z" fill="#eb5252" fill-opacity="0.3"/>
<circle cx="1737.4" cy="330.5" r="20.5" fill="url(#glow)"/>
<circle cx="1834.8" cy="294.8" r="20.5" fill="url(#glow)"/>
<circle cx="1863.6" cy="332.1" r="20.5" fill="url(#glow)"/>
<use href="#ev" transform="translate(1780 333) rotate(50) scale(0.95)"/>
<use href="#ev" transform="translate(1822.6 341) rotate(-150) scale(0.95)"/>
<use href="#ev" transform="translate(1808.8 331.7) rotate(164) scale(0.97)"/>
<use href="#apt" transform="translate(1737.4 330.5) rotate(30) scale(0.95 0.95)"/>
<use href="#apt" transform="translate(1834.8 294.8) rotate(165) scale(1 -1)"/>
<use href="#apt" transform="translate(1863.6 332.1) rotate(200) scale(0.95 -0.95)"/>
</g>
<g id="panel-b">
<text x="0.1" y="476.9" font-weight="bold" fill="#000">b</text>
<path d="M191 492.6V763.1H406.4" fill="none" stroke="#000" stroke-width="1.4"/>
<line x1="183.3" y1="497.95" x2="191" y2="497.95" stroke="#000" stroke-width="1.4"/>
<line x1="183.3" y1="628.4" x2="191" y2="628.4" stroke="#000" stroke-width="1.4"/>
<line x1="183.3" y1="758.8" x2="191" y2="758.8" stroke="#000" stroke-width="1.4"/>
<line x1="194.5" y1="763.1" x2="194.5" y2="770.8" stroke="#000" stroke-width="1.4"/>
<line x1="298" y1="763.1" x2="298" y2="770.8" stroke="#000" stroke-width="1.4"/>
<line x1="401.2" y1="763.1" x2="401.2" y2="770.8" stroke="#000" stroke-width="1.4"/>
<path d="M195.2 758.81C197.03 758.81 206.87 759.08 208.95 758.81C211.04 758.54 210.43 758.25 210.83 756.78C211.24 755.31 211.72 753.83 211.99 747.81C212.26 741.78 212.65 722.23 212.86 711.62C213.07 701 213.37 676.49 213.58 668.19C213.8 659.89 214.2 653.42 214.45 649.37C214.7 645.32 215.14 642.23 215.47 637.79C215.79 633.35 216.59 621.86 216.91 616.07C217.24 610.28 217.68 600.15 217.93 594.36C218.18 588.57 218.58 576.85 218.8 572.65C219.01 568.44 219.33 564.42 219.52 562.8C219.71 561.18 220.05 560.41 220.24 560.49C220.44 560.56 220.77 561.57 220.97 563.38C221.16 565.2 221.46 569.77 221.69 574.09C221.92 578.42 222.43 590.4 222.7 595.81C222.97 601.21 223.47 610.96 223.72 614.63C223.97 618.29 224.35 621.86 224.59 623.31C224.82 624.76 225.22 625.48 225.45 625.48C225.69 625.48 226.09 624.57 226.32 623.31C226.55 622.06 226.96 617.71 227.19 616.07C227.42 614.43 227.83 611.84 228.06 611.01C228.29 610.18 228.72 609.66 228.93 609.85C229.14 610.04 229.46 610.85 229.65 612.46C229.85 614.06 230.14 617.33 230.38 621.86C230.61 626.4 231.12 639.33 231.39 646.47C231.66 653.62 232.11 668.67 232.4 675.43C232.69 682.18 233.25 692.12 233.56 697.14C233.87 702.16 234.41 709.69 234.72 713.06C235.03 716.44 235.59 720.74 235.88 722.47C236.17 724.21 236.62 725.51 236.89 726.09C237.16 726.67 237.63 727.01 237.9 726.82C238.17 726.62 238.63 725.9 238.92 724.64C239.21 723.39 239.79 719.2 240.08 717.41C240.36 715.61 240.8 712.34 241.09 711.18C241.38 710.02 241.96 708.82 242.25 708.72C242.54 708.62 243.01 709.3 243.26 710.46C243.51 711.62 243.88 715.13 244.13 717.41C244.38 719.68 244.85 725.03 245.14 727.54C245.43 730.05 245.95 734.29 246.3 736.22C246.65 738.15 247.32 740.82 247.75 742.02C248.17 743.21 248.96 744.39 249.48 745.2C250.01 746.01 251.08 747.21 251.66 748.09C252.24 748.98 253.34 750.93 253.83 751.86C254.31 752.79 254.89 754.33 255.28 755.04C255.66 755.76 256.24 756.91 256.72 757.21C257.21 757.52 258.31 757.49 258.89 757.36C259.47 757.22 260.49 756.28 261.07 756.2C261.64 756.12 262.66 756.55 263.24 756.78C263.82 757.01 264.83 757.75 265.41 757.94C265.99 758.13 266.9 758.36 267.58 758.23C268.26 758.09 269.7 757.16 270.47 756.93C271.25 756.69 272.69 756.45 273.37 756.49C274.05 756.53 274.96 756.94 275.54 757.21C276.12 757.49 277.13 758.31 277.71 758.52C278.29 758.73 279.31 758.88 279.88 758.81C280.46 758.73 281.48 758.15 282.06 757.94C282.63 757.73 283.65 757.25 284.23 757.21C284.81 757.18 285.82 757.44 286.4 757.65C286.98 757.86 282.88 758.65 288.57 758.81C294.26 758.96 323.31 758.87 329.1 758.81C334.89 758.75 331.13 758.49 332 758.37C332.87 758.26 334.65 757.9 335.62 757.94C336.58 757.98 338.37 758.55 339.24 758.66C340.1 758.78 333.87 758.79 342.13 758.81C350.39 758.83 393.32 758.81 401.19 758.81" fill="none" stroke="#e42320" stroke-width="3" stroke-linejoin="round" stroke-linecap="butt"/>
<text x="261.5" y="526.6" fill="#000">121.5 nm</text>
<text x="270.3" y="721.6" fill="#000">SK−BR−3</text>
<text x="192.9" y="808.6" text-anchor="middle" fill="#000">0</text>
<text x="293.8" y="808.6" text-anchor="middle" fill="#000">500</text>
<text x="394.4" y="808.6" text-anchor="middle" fill="#000">1000</text>
<path d="M498.75 492.6V763.1H713.5" fill="none" stroke="#000" stroke-width="1.4"/>
<line x1="491.05" y1="497.95" x2="498.75" y2="497.95" stroke="#000" stroke-width="1.4"/>
<line x1="491.05" y1="628.4" x2="498.75" y2="628.4" stroke="#000" stroke-width="1.4"/>
<line x1="491.05" y1="758.8" x2="498.75" y2="758.8" stroke="#000" stroke-width="1.4"/>
<line x1="502.7" y1="763.1" x2="502.7" y2="770.8" stroke="#000" stroke-width="1.4"/>
<line x1="606.2" y1="763.1" x2="606.2" y2="770.8" stroke="#000" stroke-width="1.4"/>
<line x1="709.4" y1="763.1" x2="709.4" y2="770.8" stroke="#000" stroke-width="1.4"/>
<path d="M503.09 758.81C505.03 758.81 515.41 759.08 517.57 758.81C519.73 758.54 518.94 758.25 519.31 756.78C519.67 755.31 520.05 752.86 520.32 747.81C520.59 742.75 521.08 728.5 521.33 718.85C521.59 709.2 521.99 686.04 522.2 675.43C522.42 664.81 522.73 647.92 522.93 639.24C523.12 630.55 523.46 615.69 523.65 610.28C523.84 604.88 524.2 600.52 524.37 598.7C524.55 596.89 524.8 596.48 524.95 596.68C525.11 596.87 525.36 598.34 525.53 600.15C525.71 601.96 526.06 607.68 526.26 610.28C526.45 612.89 526.77 618.05 526.98 619.69C527.19 621.33 527.62 622.34 527.85 622.59C528.08 622.84 528.49 621.52 528.72 621.57C528.95 621.63 529.35 621.63 529.59 623.02C529.82 624.41 530.18 627.91 530.45 632C530.72 636.09 531.27 648.31 531.61 653.71C531.96 659.12 532.62 668.28 533.06 672.53C533.5 676.78 534.44 682.28 534.94 685.56C535.44 688.84 536.38 694.44 536.82 697.14C537.27 699.84 537.94 704.09 538.27 705.83C538.6 707.56 539.01 709.78 539.28 710.17C539.56 710.55 540.05 709.59 540.3 708.72C540.55 707.85 540.95 704.62 541.17 703.65C541.38 702.69 541.7 701.48 541.89 701.48C542.08 701.48 542.4 702.5 542.61 703.65C542.83 704.81 543.21 708.33 543.48 710.17C543.75 712 544.24 715.28 544.64 717.41C545.05 719.53 545.98 723.97 546.52 726.09C547.06 728.21 548.12 731.79 548.69 733.33C549.27 734.87 550.29 736.51 550.87 737.67C551.44 738.83 552.46 740.86 553.04 742.02C553.62 743.17 554.63 745.39 555.21 746.36C555.79 747.32 556.8 748.58 557.38 749.25C557.96 749.93 558.97 750.71 559.55 751.42C560.13 752.14 561.24 753.9 561.72 754.61C562.21 755.32 562.75 756.38 563.17 756.78C563.59 757.19 564.48 757.78 564.91 757.65C565.33 757.51 565.97 756.6 566.35 755.77C566.74 754.94 567.42 752.68 567.8 751.42C568.19 750.17 568.86 747.52 569.25 746.36C569.64 745.2 570.29 743.45 570.7 742.74C571.1 742.02 571.85 741.14 572.29 741C572.73 740.87 573.54 741.4 574.03 741.73C574.51 742.05 575.43 742.75 575.91 743.46C576.39 744.18 577.18 745.92 577.65 747.08C578.11 748.24 578.94 750.99 579.38 752.15C579.83 753.31 580.53 755 580.98 755.77C581.42 756.54 582.19 757.53 582.71 757.94C583.23 758.34 584.02 758.69 584.88 758.81C585.75 758.92 588.26 758.92 589.23 758.81C590.19 758.69 591.45 758.25 592.12 757.94C592.8 757.63 593.71 756.92 594.29 756.49C594.87 756.07 595.92 755.08 596.46 754.75C597.01 754.43 597.86 753.99 598.35 754.03C598.83 754.07 599.6 754.62 600.08 755.04C600.57 755.47 601.44 756.73 601.97 757.21C602.49 757.7 603.18 758.49 603.99 758.66C604.8 758.84 607.02 758.59 608.05 758.52C609.07 758.44 610.7 758.06 611.66 758.08C612.63 758.1 614.42 758.57 615.28 758.66C616.15 758.76 605.63 758.79 618.18 758.81C630.72 758.83 697.22 758.81 709.38 758.81" fill="none" stroke="#2b72bd" stroke-width="3" stroke-linejoin="round" stroke-linecap="butt"/>
<text x="570.4" y="526.6" fill="#000">107.5 nm</text>
<text x="587" y="721.6" fill="#000">BT−474</text>
<text x="498.7" y="808.6" text-anchor="middle" fill="#000">0</text>
<text x="599.6" y="808.6" text-anchor="middle" fill="#000">500</text>
<text x="700.2" y="808.6" text-anchor="middle" fill="#000">1000</text>
<path d="M796.6 492.6V763.1H1011.5" fill="none" stroke="#000" stroke-width="1.4"/>
<line x1="788.9" y1="497.95" x2="796.6" y2="497.95" stroke="#000" stroke-width="1.4"/>
<line x1="788.9" y1="628.4" x2="796.6" y2="628.4" stroke="#000" stroke-width="1.4"/>
<line x1="788.9" y1="758.8" x2="796.6" y2="758.8" stroke="#000" stroke-width="1.4"/>
<line x1="800.2" y1="763.1" x2="800.2" y2="770.8" stroke="#000" stroke-width="1.4"/>
<line x1="903.7" y1="763.1" x2="903.7" y2="770.8" stroke="#000" stroke-width="1.4"/>
<line x1="1006.8" y1="763.1" x2="1006.8" y2="770.8" stroke="#000" stroke-width="1.4"/>
<path d="M800.63 758.81C801.73 758.81 807.55 759.21 808.89 758.81C810.22 758.4 810.24 759.16 810.62 755.77C811.01 752.37 811.51 743.08 811.78 733.33C812.05 723.58 812.42 696.17 812.65 682.66C812.88 669.15 813.27 643.58 813.52 632C813.77 620.42 814.26 606.42 814.53 595.81C814.8 585.19 815.29 562.03 815.54 552.38C815.8 542.73 816.18 529.12 816.41 523.43C816.64 517.73 817.05 512.11 817.28 509.68C817.51 507.24 817.9 505.79 818.15 505.19C818.4 504.59 818.91 504.49 819.16 505.19C819.41 505.88 819.8 507 820.03 510.4C820.26 513.8 820.67 523.14 820.9 530.67C821.13 538.19 821.54 557.78 821.77 566.86C822 575.93 822.37 590.98 822.64 598.7C822.91 606.42 823.41 618.39 823.8 624.76C824.18 631.13 825.07 640.68 825.53 646.47C826 652.26 826.81 663.36 827.27 668.19C827.73 673.01 828.54 679.38 829.01 682.66C829.47 685.94 830.24 690.48 830.74 692.8C831.25 695.11 832.31 697.72 832.77 700.03C833.23 702.35 833.87 707.08 834.22 710.17C834.57 713.26 835.07 719.72 835.38 723.2C835.69 726.67 836.19 733.14 836.53 736.22C836.88 739.31 837.56 744.27 837.98 746.36C838.41 748.44 839.22 750.7 839.72 751.86C840.22 753.02 841.17 754.39 841.75 755.04C842.32 755.7 843.43 756.49 844.06 756.78C844.7 757.07 845.91 757.45 846.52 757.21C847.14 756.98 848.17 755.43 848.69 755.04C849.22 754.66 849.97 754.22 850.43 754.32C850.89 754.42 851.71 755.28 852.17 755.77C852.63 756.25 853.4 757.53 853.91 757.94C854.41 758.34 835.55 758.69 855.93 758.81C876.31 758.92 986.66 758.81 1006.77 758.81" fill="none" stroke="#69b231" stroke-width="3" stroke-linejoin="round" stroke-linecap="butt"/>
<text x="871.9" y="526.6" fill="#000">88.5 nm</text>
<text x="876" y="683.8" fill="#000">MDA−MB</text>
<text x="876" y="717.4" fill="#000">−231</text>
<text x="798.6" y="808.6" text-anchor="middle" fill="#000">0</text>
<text x="899.5" y="808.6" text-anchor="middle" fill="#000">500</text>
<text x="1000" y="808.6" text-anchor="middle" fill="#000">1000</text>
<path d="M1082.7 492.6V763.1H1298" fill="none" stroke="#000" stroke-width="1.4"/>
<line x1="1075" y1="497.95" x2="1082.7" y2="497.95" stroke="#000" stroke-width="1.4"/>
<line x1="1075" y1="628.4" x2="1082.7" y2="628.4" stroke="#000" stroke-width="1.4"/>
<line x1="1075" y1="758.8" x2="1082.7" y2="758.8" stroke="#000" stroke-width="1.4"/>
<line x1="1086.8" y1="763.1" x2="1086.8" y2="770.8" stroke="#000" stroke-width="1.4"/>
<line x1="1189.9" y1="763.1" x2="1189.9" y2="770.8" stroke="#000" stroke-width="1.4"/>
<line x1="1293.2" y1="763.1" x2="1293.2" y2="770.8" stroke="#000" stroke-width="1.4"/>
<path d="M1087.37 758.81C1088.92 758.81 1097.23 759.21 1098.95 758.81C1100.67 758.4 1099.95 759.16 1100.25 755.77C1100.56 752.37 1101.04 743.08 1101.27 733.33C1101.5 723.58 1101.8 696.17 1101.99 682.66C1102.18 669.15 1102.52 644.54 1102.72 632C1102.91 619.45 1103.25 598.8 1103.44 588.57C1103.63 578.34 1103.97 561.8 1104.16 555.28C1104.36 548.75 1104.71 542.03 1104.89 539.64C1105.06 537.25 1105.31 537.17 1105.47 537.32C1105.62 537.48 1105.89 538.41 1106.05 540.8C1106.2 543.19 1106.47 549.87 1106.62 555.28C1106.78 560.68 1107.03 574 1107.2 581.33C1107.38 588.67 1107.75 604.49 1107.93 610.28C1108.1 616.07 1108.35 622.44 1108.51 624.76C1108.66 627.08 1108.89 627.94 1109.09 627.65C1109.28 627.37 1109.72 623.59 1109.95 622.59C1110.19 621.58 1110.59 620.13 1110.82 620.13C1111.05 620.13 1111.48 620.62 1111.69 622.59C1111.9 624.56 1112.18 629.78 1112.41 634.89C1112.65 640.01 1113.16 654.58 1113.43 660.95C1113.7 667.32 1114.15 677.84 1114.44 682.66C1114.73 687.49 1115.25 694.05 1115.6 697.14C1115.95 700.23 1116.64 703.99 1117.05 705.83C1117.45 707.66 1118.21 710.02 1118.64 710.89C1119.06 711.76 1119.85 712.4 1120.23 712.34C1120.62 712.28 1121.24 710.88 1121.53 710.46C1121.82 710.03 1122.19 709.35 1122.4 709.15C1122.62 708.96 1122.91 708.72 1123.13 709.01C1123.34 709.3 1123.73 710.21 1124 711.33C1124.27 712.45 1124.83 716.11 1125.15 717.41C1125.48 718.7 1126.13 720.56 1126.46 721.02C1126.78 721.49 1127.32 720.86 1127.61 720.88C1127.9 720.9 1128.36 720.47 1128.63 721.17C1128.9 721.86 1129.35 724.47 1129.64 726.09C1129.93 727.71 1130.36 730.82 1130.8 733.33C1131.24 735.84 1132.29 742.59 1132.97 744.91C1133.65 747.23 1135 749.7 1135.87 750.7C1136.73 751.7 1138.52 752.82 1139.48 752.44C1140.45 752.05 1142.39 748.81 1143.1 747.81C1143.82 746.8 1144.45 745.39 1144.84 744.91C1145.23 744.43 1145.69 744.15 1146 744.19C1146.31 744.23 1146.77 744.52 1147.16 745.2C1147.54 745.88 1148.37 748.23 1148.89 749.25C1149.42 750.28 1150.2 752 1151.07 752.87C1151.93 753.74 1154.15 755.13 1155.41 755.77C1156.66 756.4 1159.32 757.59 1160.47 757.65C1161.63 757.71 1163.23 756.59 1164.09 756.2C1164.96 755.82 1166.22 754.75 1166.99 754.75C1167.76 754.75 1169.11 755.85 1169.88 756.2C1170.66 756.55 1172.01 757.24 1172.78 757.36C1173.55 757.48 1174.71 756.97 1175.67 757.07C1176.64 757.17 1178.67 757.85 1180.02 758.08C1181.37 758.31 1178.28 758.71 1185.81 758.81C1193.34 758.9 1228.95 758.88 1236.47 758.81C1244 758.73 1240.33 758.23 1242.26 758.23C1244.19 758.23 1244.16 758.73 1250.95 758.81C1257.74 758.88 1287.58 758.81 1293.22 758.81" fill="none" stroke="#8e5ca6" stroke-width="3" stroke-linejoin="round" stroke-linecap="butt"/>
<text x="1158.3" y="526.6" fill="#000">89.5 nm</text>
<text x="1162.1" y="721.6" fill="#000">MCF−10A</text>
<text x="1082.8" y="808.6" text-anchor="middle" fill="#000">0</text>
<text x="1183.3" y="808.6" text-anchor="middle" fill="#000">500</text>
<text x="1284" y="808.6" text-anchor="middle" fill="#000">1000</text>
<text x="158.2" y="508.85" text-anchor="end" fill="#000">1.2</text>
<text x="158.2" y="639.3" text-anchor="end" fill="#000">0.6</text>
<text x="158.2" y="769.7" text-anchor="end" fill="#000">0.0</text>
<text x="48.6" y="633.6" text-anchor="middle" transform="rotate(-90 48.6 633.6)" fill="#000">Concentration</text>
<text x="84.5" y="629.3" text-anchor="middle" transform="rotate(-90 84.5 629.3)" fill="#000">(10<tspan font-size="16.5" dy="-9.5">7</tspan><tspan dy="9.5" font-size="1">&#8203;</tspan> mL<tspan font-size="16.5" dy="-9.5">-1</tspan><tspan dy="9.5" font-size="1">&#8203;</tspan>)</text>
<text x="755" y="854.5" text-anchor="middle" fill="#000">Size (nm)</text>
</g>
<g id="panel-c">
<text x="1404.3" y="476.8" font-weight="bold" fill="#000">c</text>
<g clip-path="url(#temclip)">
<rect x="1526.1" y="471.1" width="437.8" height="437.8" fill="#8c8c8c"/>
<g><ellipse cx="1544.11" cy="495.87" rx="68.09" ry="59.01" fill="url(#temd)" opacity="0.74"/><ellipse cx="1570.29" cy="527.29" rx="49.93" ry="54.47" fill="url(#temd)" opacity="0.88"/><ellipse cx="1575.53" cy="504.59" rx="18.16" ry="20.43" fill="url(#temd)" opacity="1"/><ellipse cx="1530.14" cy="621.56" rx="36.31" ry="49.93" fill="url(#temd)" opacity="1"/><ellipse cx="1533.63" cy="586.65" rx="27.23" ry="27.23" fill="url(#temd)" opacity="0.41"/><ellipse cx="1654.09" cy="719.33" rx="59.01" ry="54.47" fill="url(#temd)" opacity="1"/><ellipse cx="1655.84" cy="719.33" rx="24.97" ry="24.97" fill="url(#temd)" opacity="0.74"/><ellipse cx="1568.55" cy="789.16" rx="54.47" ry="49.93" fill="url(#temd)" opacity="1"/><ellipse cx="1537.12" cy="764.72" rx="31.77" ry="27.23" fill="url(#temd)" opacity="0.54"/><ellipse cx="1695.99" cy="783.92" rx="49.93" ry="43.12" fill="url(#temd)" opacity="0.94"/><ellipse cx="1603.46" cy="845.03" rx="40.85" ry="36.31" fill="url(#temd)" opacity="0.74"/><ellipse cx="1624.41" cy="754.25" rx="40.85" ry="31.77" fill="url(#temd)" opacity="0.61"/><ellipse cx="1903.74" cy="509.83" rx="77.16" ry="63.55" fill="url(#temd)" opacity="0.81"/><ellipse cx="1938.66" cy="481.9" rx="40.85" ry="36.31" fill="url(#temd)" opacity="0.81"/><ellipse cx="1896.76" cy="541.26" rx="27.23" ry="27.23" fill="url(#temd)" opacity="0.68"/><ellipse cx="1935.17" cy="565.7" rx="40.85" ry="40.85" fill="url(#temd)" opacity="0.74"/><ellipse cx="1893.27" cy="604.11" rx="22.7" ry="40.85" fill="url(#temd)" opacity="0.81"/><ellipse cx="1900.25" cy="572.68" rx="18.16" ry="22.7" fill="url(#temd)" opacity="0.41"/><ellipse cx="1938.66" cy="698.38" rx="36.31" ry="43.12" fill="url(#temd)" opacity="0.68"/><ellipse cx="1952.63" cy="740.28" rx="27.23" ry="27.23" fill="url(#temd)" opacity="0.68"/><ellipse cx="1858.35" cy="646.01" rx="31.77" ry="31.77" fill="url(#temd)" opacity="0.41"/><ellipse cx="1833.91" cy="789.16" rx="49.93" ry="31.77" fill="url(#temd)" opacity="0.47"/><ellipse cx="1882.79" cy="817.09" rx="31.77" ry="27.23" fill="url(#temd)" opacity="0.41"/><ellipse cx="1669.8" cy="474.92" rx="40.85" ry="18.16" fill="url(#temd)" opacity="0.68"/><ellipse cx="1757.09" cy="467.93" rx="90.78" ry="13.62" fill="url(#temd)" opacity="0.34"/><ellipse cx="1645.36" cy="904.39" rx="36.31" ry="18.16" fill="url(#temd)" opacity="0.41"/><ellipse cx="1746.62" cy="593.63" rx="54.47" ry="27.23" fill="url(#temd)" opacity="0.24"/><ellipse cx="1537.12" cy="876.45" rx="27.23" ry="40.85" fill="url(#temd)" opacity="0.27"/></g>
<g filter="url(#temb2)"><rect x="1506.1" y="451.1" width="477.8" height="477.8" fill="none"/><ellipse cx="1561.56" cy="515.07" rx="13.27" ry="16.76" fill="none" stroke="#e0e0e0" stroke-width="9.22" opacity="0.8" stroke-dasharray="64.37 30.29" stroke-dashoffset="-0.68" stroke-linecap="round"/><ellipse cx="1614.64" cy="497.61" rx="28.63" ry="17.46" fill="none" stroke="#e0e0e0" stroke-width="8.38" opacity="0.7" transform="rotate(-18 1614.64 497.61)"/><ellipse cx="1868.83" cy="488.88" rx="19.2" ry="17.46" fill="none" stroke="#e0e0e0" stroke-width="7.54" opacity="0.6"/><ellipse cx="1895.01" cy="537.77" rx="17.46" ry="16.76" fill="none" stroke="#e0e0e0" stroke-width="6.7" opacity="0.55"/><ellipse cx="1933.42" cy="563.95" rx="24.44" ry="25.14" fill="none" stroke="#e0e0e0" stroke-width="10.06" opacity="0.75" stroke-dasharray="121.5 34.27" stroke-dashoffset="45.61" stroke-linecap="round"/><ellipse cx="1538.87" cy="623.31" rx="21.65" ry="25.14" fill="none" stroke="#e0e0e0" stroke-width="7.54" opacity="0.65"/><ellipse cx="1734.4" cy="649.5" rx="9.08" ry="11.17" fill="none" stroke="#e0e0e0" stroke-width="5.87" opacity="0.75"/><ellipse cx="1856.61" cy="646.01" rx="17.46" ry="17.46" fill="none" stroke="#e0e0e0" stroke-width="7.54" opacity="0.7"/><ellipse cx="1900.25" cy="649.5" rx="20.25" ry="13.27" fill="none" stroke="#e0e0e0" stroke-width="4.19" opacity="0.45"/><ellipse cx="1945.64" cy="696.63" rx="20.25" ry="21.65" fill="none" stroke="#e0e0e0" stroke-width="10.89" opacity="0.8"/><ellipse cx="1811.22" cy="705.36" rx="13.27" ry="16.76" fill="none" stroke="#e0e0e0" stroke-width="5.87" opacity="0.55" stroke-dasharray="75.72 18.93" stroke-dashoffset="6.31" stroke-linecap="round"/><ellipse cx="1655.84" cy="719.33" rx="17.46" ry="18.16" fill="none" stroke="#e0e0e0" stroke-width="5.03" opacity="0.3"/><ellipse cx="1695.99" cy="785.67" rx="19.2" ry="15.71" fill="none" stroke="#e0e0e0" stroke-width="5.87" opacity="0.45"/><ellipse cx="1612.19" cy="846.77" rx="14.66" ry="16.06" fill="none" stroke="#e0e0e0" stroke-width="8.38" opacity="0.75"/><ellipse cx="1884.54" cy="815.35" rx="17.46" ry="14.66" fill="none" stroke="#e0e0e0" stroke-width="6.7" opacity="0.65"/><ellipse cx="1874.06" cy="769.96" rx="7.68" ry="6.98" fill="none" stroke="#e0e0e0" stroke-width="4.19" opacity="0.6"/><ellipse cx="1952.63" cy="743.77" rx="13.97" ry="13.97" fill="none" stroke="#e0e0e0" stroke-width="5.87" opacity="0.5"/><ellipse cx="1943.9" cy="853.76" rx="7.68" ry="9.78" fill="none" stroke="#e0e0e0" stroke-width="3.35" opacity="0.45"/><ellipse cx="1844.39" cy="583.16" rx="7.68" ry="9.78" fill="none" stroke="#e0e0e0" stroke-width="5.03" opacity="0.7" stroke-dasharray="33.03 22.02" stroke-dashoffset="25.69" stroke-linecap="round"/><ellipse cx="1811.22" cy="804.87" rx="8.38" ry="6.98" fill="none" stroke="#e0e0e0" stroke-width="5.03" opacity="0.7" stroke-dasharray="29.02 19.35" stroke-dashoffset="-1.61" stroke-linecap="round"/><ellipse cx="1748.37" cy="881.69" rx="7.68" ry="10.47" fill="none" stroke="#e0e0e0" stroke-width="4.19" opacity="0.65" transform="rotate(25 1748.37 881.69)"/><ellipse cx="1641.87" cy="904.39" rx="20.95" ry="10.47" fill="none" stroke="#e0e0e0" stroke-width="5.87" opacity="0.45"/><ellipse cx="1662.82" cy="473.17" rx="13.97" ry="9.78" fill="none" stroke="#e0e0e0" stroke-width="5.87" opacity="0.5"/><ellipse cx="1624.41" cy="514.02" rx="14.25" ry="11.73" fill="url(#teml)" opacity="0.95"/><ellipse cx="1849.62" cy="785.67" rx="17.6" ry="18.85" fill="url(#teml)" opacity="0.7"/><ellipse cx="1785.03" cy="628.55" rx="14.66" ry="14.66" fill="url(#teml)" opacity="0.6"/><ellipse cx="1809.47" cy="621.56" rx="11.73" ry="16.76" fill="url(#teml)" opacity="0.6"/><ellipse cx="1792.01" cy="649.5" rx="16.76" ry="12.57" fill="url(#teml)" opacity="0.5"/><ellipse cx="1802.49" cy="663.46" rx="14.66" ry="12.57" fill="url(#teml)" opacity="0.55"/><ellipse cx="1746.62" cy="902.64" rx="12.57" ry="10.47" fill="url(#teml)" opacity="0.6"/><ellipse cx="1952.63" cy="698.38" rx="16.76" ry="18.85" fill="url(#teml)" opacity="0.35"/><ellipse cx="1868.83" cy="490.63" rx="16.76" ry="14.66" fill="url(#teml)" opacity="0.3"/><ellipse cx="1919.46" cy="738.53" rx="14.66" ry="4.19" fill="url(#teml)" opacity="0.6"/><ellipse cx="1807.72" cy="501.1" rx="7.54" ry="7.54" fill="url(#teml)" opacity="0.5"/><ellipse cx="1779.79" cy="492.37" rx="5.03" ry="5.87" fill="url(#teml)" opacity="0.45"/><ellipse cx="1689.01" cy="541.26" rx="4.19" ry="4.19" fill="url(#teml)" opacity="0.4"/><ellipse cx="1729.16" cy="555.22" rx="5.03" ry="5.03" fill="url(#teml)" opacity="0.35"/><ellipse cx="1685.52" cy="583.16" rx="4.19" ry="4.19" fill="url(#teml)" opacity="0.4"/><ellipse cx="1589.5" cy="607.6" rx="3.35" ry="3.35" fill="url(#teml)" opacity="0.4"/><ellipse cx="1648.85" cy="652.99" rx="3.77" ry="3.77" fill="url(#teml)" opacity="0.4"/><ellipse cx="1875.81" cy="565.7" rx="5.87" ry="5.87" fill="url(#teml)" opacity="0.4"/><ellipse cx="1921.2" cy="604.11" rx="7.54" ry="7.54" fill="url(#teml)" opacity="0.4"/><ellipse cx="1805.98" cy="590.14" rx="4.19" ry="4.19" fill="url(#teml)" opacity="0.4"/><ellipse cx="1764.08" cy="698.38" rx="4.19" ry="4.19" fill="url(#teml)" opacity="0.35"/><ellipse cx="1785.03" cy="799.64" rx="5.03" ry="5.03" fill="url(#teml)" opacity="0.4"/><ellipse cx="1692.5" cy="839.79" rx="5.03" ry="5.03" fill="url(#teml)" opacity="0.4"/><ellipse cx="1837.4" cy="876.45" rx="5.87" ry="4.19" fill="url(#teml)" opacity="0.4"/><ellipse cx="1739.64" cy="621.56" rx="4.19" ry="5.87" fill="url(#teml)" opacity="0.45"/><ellipse cx="1669.8" cy="597.12" rx="12.57" ry="8.38" fill="url(#teml)" opacity="0.25"/><ellipse cx="1638.38" cy="700.13" rx="6.7" ry="6.7" fill="url(#teml)" opacity="0.45"/><ellipse cx="1903.74" cy="632.04" rx="5.03" ry="5.03" fill="url(#teml)" opacity="0.35"/><ellipse cx="1757.09" cy="824.08" rx="5.03" ry="5.03" fill="url(#teml)" opacity="0.3"/><ellipse cx="1826.93" cy="680.92" rx="5.87" ry="5.03" fill="url(#teml)" opacity="0.3"/><circle cx="1628.42" cy="772.39" r="2.34" fill="#fff" opacity="0.32"/><circle cx="1647.71" cy="814.34" r="2.65" fill="#fff" opacity="0.33"/><circle cx="1756.92" cy="587.36" r="1.21" fill="#fff" opacity="0.29"/><circle cx="1787.25" cy="519.35" r="2.63" fill="#fff" opacity="0.26"/><circle cx="1654.01" cy="508.36" r="3" fill="#fff" opacity="0.38"/><circle cx="1896.69" cy="742.26" r="1.26" fill="#fff" opacity="0.28"/><circle cx="1754.08" cy="538.33" r="2.91" fill="#fff" opacity="0.29"/><circle cx="1624.59" cy="824.48" r="1.42" fill="#fff" opacity="0.43"/><circle cx="1737.29" cy="716.21" r="1.82" fill="#fff" opacity="0.32"/><circle cx="1636.71" cy="506.25" r="2.76" fill="#fff" opacity="0.26"/><circle cx="1860.88" cy="576.15" r="2.94" fill="#fff" opacity="0.42"/><circle cx="1851.26" cy="802.17" r="2.25" fill="#fff" opacity="0.38"/><circle cx="1612.37" cy="685.35" r="2.69" fill="#fff" opacity="0.25"/><circle cx="1914.87" cy="853.05" r="1.94" fill="#fff" opacity="0.29"/><circle cx="1736.61" cy="648.42" r="2.99" fill="#fff" opacity="0.3"/><circle cx="1576.24" cy="529.13" r="2.49" fill="#fff" opacity="0.45"/><circle cx="1753.49" cy="691.55" r="2.19" fill="#fff" opacity="0.39"/><circle cx="1649.98" cy="739.41" r="2.2" fill="#fff" opacity="0.36"/><circle cx="1634.36" cy="560.46" r="1.83" fill="#fff" opacity="0.43"/><circle cx="1697.05" cy="734.65" r="1.75" fill="#fff" opacity="0.23"/><circle cx="1590.9" cy="822.93" r="2.6" fill="#fff" opacity="0.29"/><circle cx="1824.27" cy="766.73" r="2.82" fill="#fff" opacity="0.44"/><circle cx="1719.87" cy="894.46" r="2.93" fill="#fff" opacity="0.35"/><circle cx="1899.76" cy="691.29" r="1.88" fill="#fff" opacity="0.26"/><circle cx="1897.11" cy="557.28" r="1.32" fill="#fff" opacity="0.4"/><circle cx="1858.49" cy="688.14" r="2.71" fill="#fff" opacity="0.21"/><circle cx="1663.56" cy="609.31" r="1.96" fill="#fff" opacity="0.24"/><circle cx="1592.34" cy="628.97" r="2.82" fill="#fff" opacity="0.45"/><circle cx="1847.88" cy="686.43" r="1.65" fill="#fff" opacity="0.44"/><circle cx="1764.68" cy="788.23" r="1.25" fill="#fff" opacity="0.25"/><circle cx="1882.8" cy="815.39" r="2.79" fill="#fff" opacity="0.35"/><circle cx="1727.07" cy="728.09" r="2.73" fill="#fff" opacity="0.28"/><circle cx="1767.97" cy="603.65" r="2.58" fill="#fff" opacity="0.2"/><circle cx="1825.01" cy="880.13" r="1.24" fill="#fff" opacity="0.35"/><circle cx="1809.35" cy="838.42" r="2.25" fill="#fff" opacity="0.26"/><circle cx="1719.34" cy="882.06" r="2.83" fill="#fff" opacity="0.23"/><circle cx="1601.93" cy="529.41" r="1.25" fill="#fff" opacity="0.31"/><circle cx="1619.3" cy="844.8" r="2.38" fill="#fff" opacity="0.23"/><circle cx="1769.61" cy="623.34" r="2.09" fill="#fff" opacity="0.25"/><circle cx="1628.85" cy="566.11" r="1.88" fill="#fff" opacity="0.38"/><circle cx="1773.9" cy="509.93" r="2.48" fill="#fff" opacity="0.42"/><circle cx="1858.61" cy="813.56" r="1.21" fill="#fff" opacity="0.32"/><circle cx="1590.09" cy="802.63" r="1.52" fill="#fff" opacity="0.38"/><circle cx="1661.65" cy="775.23" r="1.76" fill="#fff" opacity="0.21"/><circle cx="1713.02" cy="617.28" r="2.82" fill="#fff" opacity="0.27"/><circle cx="1756.18" cy="715.12" r="2.91" fill="#fff" opacity="0.22"/><circle cx="1793.23" cy="698.35" r="2.52" fill="#fff" opacity="0.44"/><circle cx="1683.28" cy="776.33" r="2.15" fill="#fff" opacity="0.34"/><circle cx="1590.17" cy="823.33" r="2.96" fill="#fff" opacity="0.29"/><circle cx="1686.28" cy="896.13" r="1.39" fill="#fff" opacity="0.22"/><circle cx="1593.8" cy="823.18" r="2.57" fill="#fff" opacity="0.31"/><circle cx="1800.86" cy="499.17" r="2.36" fill="#fff" opacity="0.31"/><circle cx="1761.58" cy="649.9" r="1.92" fill="#fff" opacity="0.26"/><circle cx="1584.54" cy="668.05" r="1.64" fill="#fff" opacity="0.38"/><circle cx="1874.87" cy="786.25" r="2.02" fill="#fff" opacity="0.26"/><circle cx="1711.71" cy="689.61" r="2.34" fill="#fff" opacity="0.44"/><circle cx="1598.37" cy="686.72" r="2.09" fill="#fff" opacity="0.38"/><circle cx="1902.53" cy="808.99" r="2.33" fill="#fff" opacity="0.39"/><circle cx="1818.48" cy="841.36" r="2.46" fill="#fff" opacity="0.37"/><circle cx="1658.78" cy="864.92" r="1.89" fill="#fff" opacity="0.35"/><circle cx="1877.72" cy="884.1" r="2.98" fill="#fff" opacity="0.2"/><circle cx="1684.21" cy="618.22" r="1.9" fill="#fff" opacity="0.24"/><circle cx="1775.12" cy="523.53" r="1.74" fill="#fff" opacity="0.44"/><circle cx="1846.56" cy="679.65" r="1.39" fill="#fff" opacity="0.44"/><circle cx="1832.05" cy="575.03" r="1.8" fill="#fff" opacity="0.36"/><circle cx="1823.62" cy="597.48" r="2.91" fill="#fff" opacity="0.28"/><circle cx="1662.15" cy="835.84" r="1.48" fill="#fff" opacity="0.37"/><circle cx="1641.62" cy="734.95" r="1.7" fill="#fff" opacity="0.29"/><circle cx="1921.51" cy="681.53" r="1.99" fill="#fff" opacity="0.35"/><circle cx="1672.12" cy="562.2" r="1.89" fill="#fff" opacity="0.27"/><circle cx="1637.3" cy="882.91" r="1.26" fill="#fff" opacity="0.4"/><circle cx="1919.25" cy="778.44" r="1.23" fill="#fff" opacity="0.33"/><circle cx="1580.94" cy="738.99" r="2.46" fill="#fff" opacity="0.26"/><circle cx="1568.97" cy="713.11" r="1.37" fill="#fff" opacity="0.28"/><circle cx="1737.66" cy="855.86" r="1.87" fill="#fff" opacity="0.23"/><circle cx="1865.21" cy="826.45" r="2.15" fill="#fff" opacity="0.21"/><circle cx="1636.97" cy="655.43" r="2.19" fill="#fff" opacity="0.26"/><circle cx="1869.24" cy="835.08" r="2.87" fill="#fff" opacity="0.42"/><circle cx="1572.75" cy="728.47" r="1.34" fill="#fff" opacity="0.42"/><circle cx="1848.29" cy="800.73" r="1.54" fill="#fff" opacity="0.21"/><circle cx="1874.08" cy="738.44" r="2.32" fill="#fff" opacity="0.32"/><circle cx="1868.38" cy="628.93" r="1.69" fill="#fff" opacity="0.29"/><circle cx="1678.68" cy="746.83" r="2.8" fill="#fff" opacity="0.22"/><circle cx="1591.65" cy="699.79" r="2.42" fill="#fff" opacity="0.25"/><circle cx="1668.05" cy="515.06" r="1.27" fill="#fff" opacity="0.32"/><circle cx="1823.29" cy="757.46" r="1.48" fill="#fff" opacity="0.23"/><circle cx="1917.78" cy="710.72" r="1.94" fill="#fff" opacity="0.37"/><circle cx="1841.07" cy="705.02" r="1.34" fill="#fff" opacity="0.41"/><circle cx="1646.84" cy="507.61" r="1.83" fill="#fff" opacity="0.33"/><circle cx="1803.44" cy="562.1" r="2.48" fill="#fff" opacity="0.32"/><circle cx="1627.31" cy="838.12" r="2.65" fill="#fff" opacity="0.43"/><circle cx="1822.81" cy="579.72" r="2.6" fill="#fff" opacity="0.43"/><circle cx="1767.56" cy="861.57" r="2.95" fill="#fff" opacity="0.3"/><circle cx="1921.92" cy="873.12" r="2.63" fill="#fff" opacity="0.2"/><circle cx="1699.05" cy="741.32" r="2.29" fill="#fff" opacity="0.39"/><circle cx="1810.48" cy="556.95" r="2.88" fill="#fff" opacity="0.33"/><circle cx="1899.2" cy="575.45" r="3" fill="#fff" opacity="0.34"/><circle cx="1859.11" cy="792.86" r="2.79" fill="#fff" opacity="0.29"/><circle cx="1597.39" cy="656.49" r="1.52" fill="#fff" opacity="0.33"/><circle cx="1874" cy="638.81" r="1.44" fill="#fff" opacity="0.21"/><circle cx="1725.89" cy="727.8" r="1.25" fill="#fff" opacity="0.37"/><circle cx="1645.77" cy="534.75" r="2.87" fill="#fff" opacity="0.33"/><circle cx="1904.26" cy="700.68" r="1.42" fill="#fff" opacity="0.26"/><circle cx="1726.39" cy="752.45" r="2.59" fill="#fff" opacity="0.39"/><circle cx="1811.96" cy="594.25" r="1.97" fill="#fff" opacity="0.29"/><circle cx="1751.06" cy="599.37" r="2.17" fill="#fff" opacity="0.31"/><circle cx="1579.53" cy="826.68" r="2.26" fill="#fff" opacity="0.4"/><circle cx="1844.37" cy="789.13" r="2.99" fill="#fff" opacity="0.29"/><circle cx="1714.81" cy="492.63" r="2.4" fill="#fff" opacity="0.35"/><circle cx="1783.88" cy="897.94" r="1.55" fill="#fff" opacity="0.26"/></g>
<rect x="1526.1" y="471.1" width="437.8" height="437.8" filter="url(#temn)"/>
<rect x="1819.3" y="881.8" width="127.4" height="11.2" fill="#fff"/>
</g>
</g>
<g id="panel-d">
<text x="-0.2" y="943" font-weight="bold" fill="#000">d</text>
<rect x="130" y="945.6" width="43.5" height="28.2" fill="#fff" stroke="#e42320" stroke-width="2.4"/>
<text x="183.2" y="972.6">EV-depleted plasma</text>
<rect x="535.8" y="945.6" width="43.5" height="28.2" fill="url(#hl)" stroke="#e42320" stroke-width="2.4"/>
<text x="592.4" y="972.6">EV-depleted plasma</text>
<text x="592.4" y="1006.3">+ soluble protein</text>
<rect x="940" y="945.2" width="45.6" height="30" fill="#e42320"/>
<text x="1001.6" y="972.6">EV-depleted plasma</text>
<text x="1001.6" y="1006.3">+ soluble protein</text>
<text x="1001.6" y="1039.7">+ BC plasma EVs</text>
<text x="39.6" y="1065.3">TAS</text>
<text x="728.5" y="1065.3">ELISA</text>
<clipPath id="cd1"><rect x="140" y="1100" width="530" height="432.9"/></clipPath>
<g clip-path="url(#cd1)">
<rect x="166.3" y="1493.5" width="28.6" height="46" fill="#fff" stroke="#e42320" stroke-width="3.2"/>
<rect x="213.8" y="1497.4" width="28.6" height="42.1" fill="url(#h0)" stroke="#e42320" stroke-width="3.2"/>
<rect x="260" y="1232" width="31.9" height="305.9" fill="#e42320"/>
<rect x="340.8" y="1502.7" width="28.5" height="36.8" fill="#fff" stroke="#2b72bd" stroke-width="3.2"/>
<rect x="388.3" y="1502.7" width="28.4" height="36.8" fill="url(#h1)" stroke="#2b72bd" stroke-width="3.2"/>
<rect x="434.4" y="1232" width="31.7" height="305.9" fill="#2b72bd"/>
<rect x="515.2" y="1492.8" width="28.4" height="46.7" fill="#fff" stroke="#69b231" stroke-width="3.2"/>
<rect x="562.7" y="1499.7" width="28.5" height="39.8" fill="url(#h2)" stroke="#69b231" stroke-width="3.2"/>
<rect x="609" y="1232" width="31.8" height="305.9" fill="#69b231"/>
</g>
<path d="M148.8 1101.5V1533.1H658.6" fill="none" stroke="#000" stroke-width="1.7"/>
<line x1="140" y1="1232" x2="148.8" y2="1232" stroke="#000" stroke-width="1.6"/>
<text x="122.8" y="1243.2" text-anchor="end">1.0</text>
<line x1="140" y1="1399.7" x2="148.8" y2="1399.7" stroke="#000" stroke-width="1.6"/>
<text x="122.8" y="1410.9" text-anchor="end">0.5</text>
<text x="48.8" y="1359" text-anchor="middle" transform="rotate(-90 48.8 1359)">Intensity (arb. units)</text>
<text x="227" y="1580.8" text-anchor="middle">CA 15-3</text>
<text x="401.7" y="1580.8" text-anchor="middle">CA 125</text>
<text x="576.4" y="1580.8" text-anchor="middle">CEA</text>
<text x="253.6" y="1092.9" text-anchor="middle">0.0090</text>
<line x1="229.6" y1="1105.8" x2="277.6" y2="1105.8" stroke="#231815" stroke-width="2.2"/>
<text x="428.2" y="1092.9" text-anchor="middle">0.0005</text>
<line x1="404.2" y1="1105.8" x2="452.2" y2="1105.8" stroke="#231815" stroke-width="2.2"/>
<text x="602.4" y="1092.9" text-anchor="middle">0.00006</text>
<line x1="578.4" y1="1105.8" x2="626.4" y2="1105.8" stroke="#231815" stroke-width="2.2"/>
<path d="M173 1490.5H188M173 1495.5H188M180.5 1490.5V1495.5" fill="none" stroke="#000" stroke-width="1.4"/>
<circle cx="173.1" cy="1489.5" r="5.45" fill="none" stroke="#000" stroke-width="2.1"/><circle cx="180.5" cy="1495.8" r="5.45" fill="none" stroke="#000" stroke-width="2.1"/><circle cx="187.9" cy="1491.1" r="5.45" fill="none" stroke="#000" stroke-width="2.1"/>
<path d="M220.3 1484.9H235.3M220.3 1505.7H235.3M227.8 1484.9V1505.7" fill="none" stroke="#000" stroke-width="1.4"/>
<circle cx="227.8" cy="1485.4" r="5.45" fill="none" stroke="#000" stroke-width="2.1"/><circle cx="235.9" cy="1495.1" r="5.45" fill="none" stroke="#000" stroke-width="2.1"/><circle cx="219.6" cy="1505.1" r="5.45" fill="none" stroke="#000" stroke-width="2.1"/>
<path d="M268.4 1136.5H283.4M268.4 1327.9H283.4M275.9 1136.5V1327.9" fill="none" stroke="#000" stroke-width="1.4"/>
<circle cx="275.9" cy="1122.4" r="5.45" fill="none" stroke="#000" stroke-width="2.1"/><circle cx="284.3" cy="1280.4" r="5.45" fill="none" stroke="#000" stroke-width="2.1"/><circle cx="267.6" cy="1293.6" r="5.45" fill="none" stroke="#000" stroke-width="2.1"/>
<path d="M347.2 1493.5H362.2M347.2 1508.5H362.2M354.7 1493.5V1508.5" fill="none" stroke="#000" stroke-width="1.4"/>
<circle cx="347.3" cy="1494.6" r="5.45" fill="none" stroke="#000" stroke-width="2.1"/><circle cx="362.3" cy="1498.8" r="5.45" fill="none" stroke="#000" stroke-width="2.1"/><circle cx="354.7" cy="1509" r="5.45" fill="none" stroke="#000" stroke-width="2.1"/>
<path d="M394.9 1487H409.9M394.9 1516.6H409.9M402.4 1487V1516.6" fill="none" stroke="#000" stroke-width="1.4"/>
<circle cx="394.5" cy="1492.8" r="5.45" fill="none" stroke="#000" stroke-width="2.1"/><circle cx="410.3" cy="1492.8" r="5.45" fill="none" stroke="#000" stroke-width="2.1"/><circle cx="402.4" cy="1518.5" r="5.45" fill="none" stroke="#000" stroke-width="2.1"/>
<path d="M442.9 1188.9H457.9M442.9 1274.6H457.9M450.4 1188.9V1274.6" fill="none" stroke="#000" stroke-width="1.4"/>
<circle cx="450.4" cy="1186.1" r="5.45" fill="none" stroke="#000" stroke-width="2.1"/><circle cx="450.4" cy="1240.3" r="5.45" fill="none" stroke="#000" stroke-width="2.1"/><circle cx="450.4" cy="1270.6" r="5.45" fill="none" stroke="#000" stroke-width="2.1"/>
<path d="M521.8 1475.7H536.8M521.8 1506.2H536.8M529.3 1475.7V1506.2" fill="none" stroke="#000" stroke-width="1.4"/>
<circle cx="529.3" cy="1475.7" r="5.45" fill="none" stroke="#000" stroke-width="2.1"/><circle cx="537.2" cy="1491.9" r="5.45" fill="none" stroke="#000" stroke-width="2.1"/><circle cx="521.2" cy="1506.2" r="5.45" fill="none" stroke="#000" stroke-width="2.1"/>
<path d="M569.3 1490H584.3M569.3 1507.4H584.3M576.8 1490V1507.4" fill="none" stroke="#000" stroke-width="1.4"/>
<circle cx="576.8" cy="1486.1" r="5.45" fill="none" stroke="#000" stroke-width="2.1"/><circle cx="584.7" cy="1502.7" r="5.45" fill="none" stroke="#000" stroke-width="2.1"/><circle cx="569.2" cy="1505.5" r="5.45" fill="none" stroke="#000" stroke-width="2.1"/>
<path d="M617.5 1209H632.5M617.5 1255.1H632.5M625 1209V1255.1" fill="none" stroke="#000" stroke-width="1.4"/>
<circle cx="625" cy="1206.2" r="5.45" fill="none" stroke="#000" stroke-width="2.1"/><circle cx="633.3" cy="1240.5" r="5.45" fill="none" stroke="#000" stroke-width="2.1"/><circle cx="616.7" cy="1249.8" r="5.45" fill="none" stroke="#000" stroke-width="2.1"/>
<clipPath id="cd2"><rect x="840" y="1100" width="530" height="427.5"/></clipPath>
<g clip-path="url(#cd2)">
<rect x="858.3" y="1525" width="31.9" height="7.5" fill="#e42320"/>
<rect x="907.6" y="1269.2" width="28.5" height="264.9" fill="url(#h0)" stroke="#e42320" stroke-width="3.2"/>
<rect x="953.9" y="1265.3" width="31.6" height="267.2" fill="#e42320"/>
<rect x="1033.1" y="1525" width="31.6" height="7.5" fill="#2b72bd"/>
<rect x="1081.8" y="1176.1" width="28.5" height="358" fill="url(#h1)" stroke="#2b72bd" stroke-width="3.2"/>
<rect x="1128.1" y="1157.6" width="31.8" height="374.9" fill="#2b72bd"/>
<rect x="1256.3" y="1480.5" width="28.5" height="53.6" fill="url(#h2)" stroke="#69b231" stroke-width="3.2"/>
<rect x="1302.4" y="1475.1" width="31.9" height="57.4" fill="#69b231"/>
</g>
<path d="M842.7 1101.5V1533.1H1352.3" fill="none" stroke="#000" stroke-width="1.7"/>
<line x1="834.1" y1="1121.2" x2="842.7" y2="1121.2" stroke="#000" stroke-width="1.6"/>
<text x="819" y="1132.2" text-anchor="end">40</text>
<line x1="834.1" y1="1324.4" x2="842.7" y2="1324.4" stroke="#000" stroke-width="1.6"/>
<text x="819" y="1335.4" text-anchor="end">20</text>
<line x1="834.1" y1="1527.5" x2="842.7" y2="1527.5" stroke="#000" stroke-width="1.6"/>
<text x="819" y="1538.5" text-anchor="end">0</text>
<text x="761.4" y="1385.8" text-anchor="middle" transform="rotate(-90 761.4 1385.8)">Concentration (U mL<tspan font-size="16.5" dy="-9.5">-1</tspan><tspan dy="9.5" font-size="1">&#8203;</tspan>)</text>
<text x="926.2" y="1580.8" text-anchor="middle">CA 15-3</text>
<text x="1100.9" y="1580.8" text-anchor="middle">CA 125</text>
<text x="1275.8" y="1580.8" text-anchor="middle">CEA</text>
<circle cx="866.6" cy="1526.6" r="5.45" fill="none" stroke="#000" stroke-width="2.1"/><circle cx="874.5" cy="1527.1" r="5.45" fill="none" stroke="#000" stroke-width="2.1"/><circle cx="882.4" cy="1526.6" r="5.45" fill="none" stroke="#000" stroke-width="2.1"/>
<path d="M914.2 1257.9H929.2M914.2 1276.4H929.2M921.7 1257.9V1276.4" fill="none" stroke="#000" stroke-width="1.4"/>
<circle cx="913.9" cy="1261.4" r="5.45" fill="none" stroke="#000" stroke-width="2.1"/><circle cx="929.1" cy="1263" r="5.45" fill="none" stroke="#000" stroke-width="2.1"/><circle cx="921.7" cy="1278.1" r="5.45" fill="none" stroke="#000" stroke-width="2.1"/>
<path d="M962.2 1256.5H977.2M962.2 1275.7H977.2M969.7 1256.5V1275.7" fill="none" stroke="#000" stroke-width="1.4"/>
<circle cx="962" cy="1259.8" r="5.45" fill="none" stroke="#000" stroke-width="2.1"/><circle cx="977.3" cy="1260.2" r="5.45" fill="none" stroke="#000" stroke-width="2.1"/><circle cx="969.7" cy="1277.4" r="5.45" fill="none" stroke="#000" stroke-width="2.1"/>
<path d="M1040.9 1527.5H1055.9M1040.9 1531.5H1055.9M1048.4 1527.5V1531.5" fill="none" stroke="#000" stroke-width="1.4"/>
<circle cx="1040.8" cy="1528.2" r="5.45" fill="none" stroke="#000" stroke-width="2.1"/><circle cx="1056.1" cy="1528.2" r="5.45" fill="none" stroke="#000" stroke-width="2.1"/><circle cx="1048.4" cy="1532.2" r="5.45" fill="none" stroke="#000" stroke-width="2.1"/>
<path d="M1088.9 1159.9H1103.9M1088.9 1188.9H1103.9M1096.4 1159.9V1188.9" fill="none" stroke="#000" stroke-width="1.4"/>
<circle cx="1096.4" cy="1157.6" r="5.45" fill="none" stroke="#000" stroke-width="2.1"/><circle cx="1088.3" cy="1182.6" r="5.45" fill="none" stroke="#000" stroke-width="2.1"/><circle cx="1103.8" cy="1181.9" r="5.45" fill="none" stroke="#000" stroke-width="2.1"/>
<path d="M1136.8 1147.2H1151.8M1136.8 1168.7H1151.8M1144.3 1147.2V1168.7" fill="none" stroke="#000" stroke-width="1.4"/>
<circle cx="1144.3" cy="1145.6" r="5.45" fill="none" stroke="#000" stroke-width="2.1"/><circle cx="1152" cy="1161.1" r="5.45" fill="none" stroke="#000" stroke-width="2.1"/><circle cx="1136.2" cy="1166.9" r="5.45" fill="none" stroke="#000" stroke-width="2.1"/>
<circle cx="1215.1" cy="1527.5" r="5.45" fill="none" stroke="#000" stroke-width="2.1"/><circle cx="1223" cy="1529.2" r="5.45" fill="none" stroke="#000" stroke-width="2.1"/><circle cx="1230.9" cy="1527.5" r="5.45" fill="none" stroke="#000" stroke-width="2.1"/>
<path d="M1263 1476.5H1278M1263 1479.5H1278M1270.5 1476.5V1479.5" fill="none" stroke="#000" stroke-width="1.4"/>
<circle cx="1263.2" cy="1477.2" r="5.45" fill="none" stroke="#000" stroke-width="2.1"/><circle cx="1270.5" cy="1480" r="5.45" fill="none" stroke="#000" stroke-width="2.1"/><circle cx="1278.2" cy="1477.7" r="5.45" fill="none" stroke="#000" stroke-width="2.1"/>
<path d="M1311.2 1473.5H1326.2M1311.2 1476.5H1326.2M1318.7 1473.5V1476.5" fill="none" stroke="#000" stroke-width="1.4"/>
<circle cx="1310.7" cy="1474.1" r="5.45" fill="none" stroke="#000" stroke-width="2.1"/><circle cx="1318.7" cy="1477.2" r="5.45" fill="none" stroke="#000" stroke-width="2.1"/><circle cx="1326.4" cy="1474.3" r="5.45" fill="none" stroke="#000" stroke-width="2.1"/>
</g>
<g id="panel-e">
<text x="1404.2" y="1011.6" font-weight="bold" fill="#000">e</text>
<path d="M1530.8 1027.1V1488.6M1522.2 1480H1983.4" fill="none" stroke="#000" stroke-width="1.7"/>
<line x1="1522.2" y1="1069" x2="1530.8" y2="1069" stroke="#000" stroke-width="1.6"/>
<text x="1508.2" y="1078.9" text-anchor="end">1.0</text>
<line x1="1522.2" y1="1274.3" x2="1530.8" y2="1274.3" stroke="#000" stroke-width="1.6"/>
<text x="1508.2" y="1284.2" text-anchor="end">0.5</text>
<line x1="1522.2" y1="1480" x2="1530.8" y2="1480" stroke="#000" stroke-width="1.6"/>
<text x="1508.2" y="1489.9" text-anchor="end">0.0</text>
<line x1="1530.8" y1="1480" x2="1530.8" y2="1488.6" stroke="#000" stroke-width="1.6"/>
<text x="1510.3" y="1534.6">10<tspan font-size="17" dy="-11">6</tspan><tspan dy="11" font-size="1">&#8203;</tspan></text>
<line x1="1641.5" y1="1480" x2="1641.5" y2="1488.6" stroke="#000" stroke-width="1.6"/>
<text x="1621" y="1534.6">10<tspan font-size="17" dy="-11">7</tspan><tspan dy="11" font-size="1">&#8203;</tspan></text>
<line x1="1752.2" y1="1480" x2="1752.2" y2="1488.6" stroke="#000" stroke-width="1.6"/>
<text x="1731.7" y="1534.6">10<tspan font-size="17" dy="-11">8</tspan><tspan dy="11" font-size="1">&#8203;</tspan></text>
<line x1="1862.9" y1="1480" x2="1862.9" y2="1488.6" stroke="#000" stroke-width="1.6"/>
<text x="1842.4" y="1534.6">10<tspan font-size="17" dy="-11">9</tspan><tspan dy="11" font-size="1">&#8203;</tspan></text>
<line x1="1973.6" y1="1480" x2="1973.6" y2="1488.6" stroke="#000" stroke-width="1.6"/>
<text x="1947.1" y="1534.6">10<tspan font-size="17" dy="-11">10</tspan><tspan dy="11" font-size="1">&#8203;</tspan></text>
<text x="1758" y="1580.6" text-anchor="middle">EV concentration (mL<tspan font-size="16.5" dy="-9.5">-1</tspan><tspan dy="9.5" font-size="1">&#8203;</tspan>)</text>
<text x="1443.5" y="1273" text-anchor="middle" transform="rotate(-90 1443.5 1273)">Intensity (arb. units)</text>
<text x="1581.5" y="1074.4"><tspan font-style="italic">R</tspan><tspan font-size="17" dy="-11">2</tspan><tspan dy="11" font-size="1">&#8203;</tspan> = 0.93</text>
<text x="1563.5" y="1310.4" fill="#d7182a">TAS</text>
<text x="1563.5" y="1360" fill="#2b72bd">ELISA</text>
<line x1="1666.31" y1="1430.42" x2="1973.58" y2="1111.98" stroke="#808080" stroke-width="3"/>
<circle cx="1586.01" cy="1425.88" r="5.9" fill="#d4242c"/>
<circle cx="1586.01" cy="1436.7" r="5.9" fill="#d4242c"/>
<path d="M1655.37 1414.71H1672.37M1655.37 1433.91H1672.37M1663.87 1414.71V1433.91" fill="none" stroke="#d4242c" stroke-width="1.5"/>
<circle cx="1663.87" cy="1415.75" r="5.9" fill="#d4242c"/>
<circle cx="1663.87" cy="1426.93" r="5.9" fill="#d4242c"/>
<circle cx="1663.87" cy="1434.96" r="5.9" fill="#d4242c"/>
<path d="M1733.23 1356.4H1750.23M1733.23 1398.3H1750.23M1741.73 1356.4V1398.3" fill="none" stroke="#d4242c" stroke-width="1.5"/>
<circle cx="1741.73" cy="1358.84" r="5.9" fill="#d4242c"/>
<circle cx="1741.73" cy="1372.81" r="5.9" fill="#d4242c"/>
<circle cx="1741.73" cy="1400.74" r="5.9" fill="#d4242c"/>
<path d="M1810.75 1293.2H1827.75M1810.75 1335.1H1827.75M1819.25 1293.2V1335.1" fill="none" stroke="#d4242c" stroke-width="1.5"/>
<circle cx="1819.25" cy="1290.06" r="5.9" fill="#d4242c"/>
<circle cx="1819.25" cy="1322.88" r="5.9" fill="#d4242c"/>
<circle cx="1819.25" cy="1329.16" r="5.9" fill="#d4242c"/>
<path d="M1887.91 1223.37H1904.91M1887.91 1257.58H1904.91M1896.41 1223.37V1257.58" fill="none" stroke="#d4242c" stroke-width="1.5"/>
<circle cx="1896.41" cy="1220.92" r="5.9" fill="#d4242c"/>
<circle cx="1896.41" cy="1247.11" r="5.9" fill="#d4242c"/>
<circle cx="1896.41" cy="1252.35" r="5.9" fill="#d4242c"/>
<path d="M1965.08 1034.12H1982.08M1965.08 1107.44H1982.08M1973.58 1034.12V1107.44" fill="none" stroke="#d4242c" stroke-width="1.5"/>
<circle cx="1973.58" cy="1033.07" r="5.9" fill="#d4242c"/>
<circle cx="1973.58" cy="1064.15" r="5.9" fill="#d4242c"/>
<circle cx="1973.58" cy="1110.94" r="5.9" fill="#d4242c"/>
<circle cx="1663.87" cy="1425.18" r="5.9" fill="#2b72bd"/>
<circle cx="1663.87" cy="1428.67" r="5.9" fill="#2b72bd"/>
<circle cx="1741.73" cy="1421.69" r="5.9" fill="#2b72bd"/>
<circle cx="1741.73" cy="1426.93" r="5.9" fill="#2b72bd"/>
<circle cx="1741.73" cy="1432.86" r="5.9" fill="#2b72bd"/>
<circle cx="1819.25" cy="1422.04" r="5.9" fill="#2b72bd"/>
<circle cx="1819.25" cy="1425.53" r="5.9" fill="#2b72bd"/>
<circle cx="1896.41" cy="1422.39" r="5.9" fill="#2b72bd"/>
<circle cx="1896.41" cy="1424.48" r="5.9" fill="#2b72bd"/>
<circle cx="1973.58" cy="1413.66" r="5.9" fill="#2b72bd"/>
<circle cx="1973.58" cy="1418.2" r="5.9" fill="#2b72bd"/>
</g>
<g id="panel-f">
<text x="-0.2" y="1667" font-weight="bold" fill="#000">f</text>
<text x="163.65" y="1688.3" text-anchor="middle">CA 15-3</text>
<text x="323.28" y="1688.3" text-anchor="middle">CA 125</text>
<text x="482.91" y="1688.3" text-anchor="middle">CEA</text>
<text x="642.54" y="1688.3" text-anchor="middle">HER2</text>
<text x="802.17" y="1688.3" text-anchor="middle">EGFR</text>
<text x="961.8" y="1688.3" text-anchor="middle">PSMA</text>
<text x="1121.43" y="1688.3" text-anchor="middle">EpCAM</text>
<text x="1281.06" y="1688.3" text-anchor="middle">VEGF</text>
<text x="69.2" y="1778.55" text-anchor="middle" transform="rotate(-90 69.2 1778.55)">SK-BR-3</text>
<text x="69.2" y="1935.85" text-anchor="middle" transform="rotate(-90 69.2 1935.85)">BT-474</text>
<text x="69.2" y="2250.15" text-anchor="middle" transform="rotate(-90 69.2 2250.15)">MCF-10A</text>
<text x="32.8" y="2093.05" text-anchor="middle" transform="rotate(-90 32.8 2093.05)">MDA-MB</text>
<text x="69.2" y="2093.05" text-anchor="middle" transform="rotate(-90 69.2 2093.05)">-231</text>
<rect x="87.9" y="1702.4" width="152.3" height="152.3" fill="#000"/>
<g clip-path="url(#t00)"><g filter="url(#grain)"><circle cx="163.55" cy="1779.75" r="74" fill="url(#fr)" opacity="0.52"/><circle cx="165.05" cy="1782.55" r="28" fill="url(#fr)" opacity="0.22"/></g></g>
<circle cx="163.75" cy="1777.65" r="61.0" fill="none" stroke="#fff" stroke-width="3.5" stroke-dasharray="12.4 11.555" stroke-dashoffset="0"/>
<rect x="247.53" y="1702.4" width="152.3" height="152.3" fill="#000"/>
<g clip-path="url(#t01)"><g filter="url(#grain)"><circle cx="322.38" cy="1779.75" r="42" fill="url(#fb)" opacity="0.3"/></g></g>
<circle cx="323.38" cy="1777.65" r="61.0" fill="none" stroke="#fff" stroke-width="3.5" stroke-dasharray="12.4 11.555" stroke-dashoffset="0"/>
<rect x="407.16" y="1702.4" width="152.3" height="152.3" fill="#000"/>
<g clip-path="url(#t02)"><g filter="url(#grain)"><circle cx="487.31" cy="1776.55" r="44" fill="url(#fg)" opacity="0.42"/><circle cx="488.91" cy="1775.55" r="16" fill="url(#fg)" opacity="0.5"/><circle cx="488.91" cy="1775.55" r="5" fill="url(#fg)" opacity="0.6"/></g></g>
<circle cx="483.01" cy="1777.65" r="61.0" fill="none" stroke="#fff" stroke-width="3.5" stroke-dasharray="12.4 11.555" stroke-dashoffset="0"/>
<rect x="566.79" y="1702.4" width="152.3" height="152.3" fill="#000"/>
<g clip-path="url(#t03)"><g filter="url(#grain)"><circle cx="642.94" cy="1777.55" r="56" fill="url(#fy)" opacity="0.85"/><circle cx="642.94" cy="1777.55" r="26" fill="url(#fy)" opacity="0.5"/></g></g>
<circle cx="642.64" cy="1777.65" r="61.0" fill="none" stroke="#fff" stroke-width="3.5" stroke-dasharray="12.4 11.555" stroke-dashoffset="0"/>
<rect x="726.42" y="1702.4" width="152.3" height="152.3" fill="#000"/>
<g clip-path="url(#t04)"><g filter="url(#grain)"><circle cx="800.37" cy="1778.55" r="44" fill="url(#fc)" opacity="0.62"/><circle cx="800.37" cy="1778.55" r="20" fill="url(#fc)" opacity="0.45"/></g></g>
<circle cx="802.27" cy="1777.65" r="61.0" fill="none" stroke="#fff" stroke-width="3.5" stroke-dasharray="12.4 11.555" stroke-dashoffset="0"/>
<rect x="886.05" y="1702.4" width="152.3" height="152.3" fill="#000"/>
<g clip-path="url(#t05)"><g filter="url(#grain)"><circle cx="962.7" cy="1777.55" r="52" fill="url(#fm)" opacity="0.72"/><circle cx="963.2" cy="1776.55" r="24" fill="url(#fm)" opacity="0.35"/></g></g>
<circle cx="961.9" cy="1777.65" r="61.0" fill="none" stroke="#fff" stroke-width="3.5" stroke-dasharray="12.4 11.555" stroke-dashoffset="0"/>
<rect x="1045.68" y="1702.4" width="152.3" height="152.3" fill="#000"/>
<g clip-path="url(#t06)"><g><circle cx="1121.83" cy="1778.55" r="69" fill="url(#do)" opacity="0.45"/><circle cx="1121.83" cy="1778.55" r="80" fill="url(#fo)" opacity="0.5"/><circle cx="1122.83" cy="1775.55" r="36" fill="url(#fo)" opacity="0.6"/></g><ellipse cx="1101.83" cy="1766.55" rx="2.3" ry="2" fill="#000" opacity="0.9"/><ellipse cx="1098.33" cy="1810.55" rx="3.68" ry="3.2" fill="#000" opacity="0.9"/><ellipse cx="1072.83" cy="1787.55" rx="1.84" ry="1.6" fill="#000" opacity="0.9"/><ellipse cx="1153.33" cy="1761.05" rx="1.38" ry="1.2" fill="#000" opacity="0.9"/></g>
<circle cx="1121.53" cy="1777.65" r="61.0" fill="none" stroke="#fff" stroke-width="3.5" stroke-dasharray="12.4 11.555" stroke-dashoffset="0"/>
<rect x="1205.31" y="1702.4" width="152.3" height="152.3" fill="#000"/>
<g clip-path="url(#t07)"><g filter="url(#grain)"><circle cx="1281.46" cy="1779.55" r="60" fill="url(#fv)" opacity="0.6"/></g></g>
<circle cx="1281.16" cy="1777.65" r="61.0" fill="none" stroke="#fff" stroke-width="3.5" stroke-dasharray="12.4 11.555" stroke-dashoffset="0"/>
<rect x="87.9" y="1859.7" width="152.3" height="152.3" fill="#000"/>
<g clip-path="url(#t10)"><g><circle cx="162.05" cy="1936.65" r="48" fill="url(#fr)" opacity="1"/><circle cx="161.55" cy="1937.85" r="24" fill="url(#fr)" opacity="0.9"/></g></g>
<circle cx="163.75" cy="1934.95" r="61.0" fill="none" stroke="#fff" stroke-width="3.5" stroke-dasharray="12.4 11.555" stroke-dashoffset="0"/>
<rect x="247.53" y="1859.7" width="152.3" height="152.3" fill="#000"/>
<g clip-path="url(#t11)"><g><circle cx="322.38" cy="1936.65" r="84" fill="url(#fb)" opacity="0.9"/><circle cx="322.38" cy="1936.65" r="40" fill="url(#fb)" opacity="0.8"/></g></g>
<circle cx="323.38" cy="1934.95" r="61.0" fill="none" stroke="#fff" stroke-width="3.5" stroke-dasharray="12.4 11.555" stroke-dashoffset="0"/>
<rect x="407.16" y="1859.7" width="152.3" height="152.3" fill="#000"/>
<g clip-path="url(#t12)"><g><circle cx="483.31" cy="1935.85" r="115" fill="url(#fg)" opacity="0.37"/><circle cx="480.31" cy="1943.55" r="34" fill="url(#fg)" opacity="0.9"/><circle cx="480.31" cy="1943.55" r="15" fill="url(#fg)" opacity="0.8"/></g></g>
<circle cx="483.01" cy="1934.95" r="61.0" fill="none" stroke="#fff" stroke-width="3.5" stroke-dasharray="12.4 11.555" stroke-dashoffset="0"/>
<rect x="566.79" y="1859.7" width="152.3" height="152.3" fill="#000"/>
<g clip-path="url(#t13)"><g filter="url(#grain)"><circle cx="640.94" cy="1937.85" r="50" fill="url(#fy)" opacity="0.75"/></g></g>
<circle cx="642.64" cy="1934.95" r="61.0" fill="none" stroke="#fff" stroke-width="3.5" stroke-dasharray="12.4 11.555" stroke-dashoffset="0"/>
<rect x="726.42" y="1859.7" width="152.3" height="152.3" fill="#000"/>
<g clip-path="url(#t14)"><g><circle cx="802.57" cy="1935.85" r="125" fill="url(#fc)" opacity="0.4"/><circle cx="802.17" cy="1935.35" r="30" fill="url(#fc)" opacity="0.8"/><circle cx="802.17" cy="1935.35" r="14" fill="url(#fc)" opacity="0.9"/></g></g>
<circle cx="802.27" cy="1934.95" r="61.0" fill="none" stroke="#fff" stroke-width="3.5" stroke-dasharray="12.4 11.555" stroke-dashoffset="0"/>
<rect x="886.05" y="1859.7" width="152.3" height="152.3" fill="#000"/>
<g clip-path="url(#t15)"><g filter="url(#grain)"><circle cx="962.7" cy="1936.25" r="42" fill="url(#fm)" opacity="0.9"/></g></g>
<circle cx="961.9" cy="1934.95" r="61.0" fill="none" stroke="#fff" stroke-width="3.5" stroke-dasharray="12.4 11.555" stroke-dashoffset="0"/>
<rect x="1045.68" y="1859.7" width="152.3" height="152.3" fill="#000"/>
<g clip-path="url(#t16)"><g><circle cx="1121.83" cy="1935.85" r="69" fill="url(#do)" opacity="0.28"/><circle cx="1121.83" cy="1935.85" r="80" fill="url(#fo)" opacity="0.42"/><circle cx="1121.83" cy="1938.35" r="36" fill="url(#fo)" opacity="0.65"/></g></g>
<circle cx="1121.53" cy="1934.95" r="61.0" fill="none" stroke="#fff" stroke-width="3.5" stroke-dasharray="12.4 11.555" stroke-dashoffset="0"/>
<rect x="1205.31" y="1859.7" width="152.3" height="152.3" fill="#000"/>
<g clip-path="url(#t17)"><g><circle cx="1279.96" cy="1936.35" r="30" fill="url(#fv)" opacity="0.6"/><circle cx="1279.96" cy="1936.35" r="12" fill="url(#fv)" opacity="0.7"/></g></g>
<circle cx="1281.16" cy="1934.95" r="61.0" fill="none" stroke="#fff" stroke-width="3.5" stroke-dasharray="12.4 11.555" stroke-dashoffset="0"/>
<rect x="87.9" y="2016.9" width="152.3" height="152.3" fill="#000"/>
<g clip-path="url(#t20)"><g><circle cx="164.05" cy="2094.05" r="56" fill="url(#fr)" opacity="1"/><circle cx="164.05" cy="2094.05" r="26" fill="url(#fr)" opacity="0.6"/></g></g>
<circle cx="163.75" cy="2092.15" r="61.0" fill="none" stroke="#fff" stroke-width="3.5" stroke-dasharray="12.4 11.555" stroke-dashoffset="0"/>
<rect x="247.53" y="2016.9" width="152.3" height="152.3" fill="#000"/>
<g clip-path="url(#t21)"><g><circle cx="322.68" cy="2093.05" r="54" fill="url(#fb)" opacity="1"/><circle cx="322.68" cy="2093.05" r="26" fill="url(#fb)" opacity="0.5"/></g></g>
<circle cx="323.38" cy="2092.15" r="61.0" fill="none" stroke="#fff" stroke-width="3.5" stroke-dasharray="12.4 11.555" stroke-dashoffset="0"/>
<rect x="407.16" y="2016.9" width="152.3" height="152.3" fill="#000"/>
<g clip-path="url(#t22)"><g><circle cx="485.01" cy="2092.35" r="70" fill="url(#fg)" opacity="1"/><circle cx="485.01" cy="2092.35" r="30" fill="url(#fg)" opacity="0.6"/></g></g>
<circle cx="483.01" cy="2092.15" r="61.0" fill="none" stroke="#fff" stroke-width="3.5" stroke-dasharray="12.4 11.555" stroke-dashoffset="0"/>
<rect x="566.79" y="2016.9" width="152.3" height="152.3" fill="#000"/>
<g clip-path="url(#t23)"><g filter="url(#grain)"><circle cx="642.94" cy="2093.05" r="40" fill="url(#fy)" opacity="0.52"/></g></g>
<circle cx="642.64" cy="2092.15" r="61.0" fill="none" stroke="#fff" stroke-width="3.5" stroke-dasharray="12.4 11.555" stroke-dashoffset="0"/>
<rect x="726.42" y="2016.9" width="152.3" height="152.3" fill="#000"/>
<g clip-path="url(#t24)"><g filter="url(#grain)"><circle cx="800.37" cy="2092.55" r="50" fill="url(#fc)" opacity="1"/><circle cx="800.37" cy="2092.55" r="30" fill="url(#fc)" opacity="0.8"/></g></g>
<circle cx="802.27" cy="2092.15" r="61.0" fill="none" stroke="#fff" stroke-width="3.5" stroke-dasharray="12.4 11.555" stroke-dashoffset="0"/>
<rect x="886.05" y="2016.9" width="152.3" height="152.3" fill="#000"/>
<g clip-path="url(#t25)"><g filter="url(#grain)"><circle cx="960.9" cy="2092.55" r="62" fill="url(#fm)" opacity="1"/><circle cx="960.9" cy="2092.55" r="30" fill="url(#fm)" opacity="0.3"/></g></g>
<circle cx="961.9" cy="2092.15" r="61.0" fill="none" stroke="#fff" stroke-width="3.5" stroke-dasharray="12.4 11.555" stroke-dashoffset="0"/>
<rect x="1045.68" y="2016.9" width="152.3" height="152.3" fill="#000"/>
<g clip-path="url(#t26)"><g><circle cx="1121.13" cy="2092.55" r="62" fill="url(#fo)" opacity="0.72"/><circle cx="1120.33" cy="2103.05" r="12" fill="url(#fo)" opacity="0.4"/></g></g>
<circle cx="1121.53" cy="2092.15" r="61.0" fill="none" stroke="#fff" stroke-width="3.5" stroke-dasharray="12.4 11.555" stroke-dashoffset="0"/>
<rect x="1205.31" y="2016.9" width="152.3" height="152.3" fill="#000"/>
<g clip-path="url(#t27)"><g><circle cx="1283.66" cy="2089.05" r="70" fill="url(#fv)" opacity="1"/><circle cx="1283.66" cy="2089.05" r="36" fill="url(#fv)" opacity="0.3"/></g></g>
<circle cx="1281.16" cy="2092.15" r="61.0" fill="none" stroke="#fff" stroke-width="3.5" stroke-dasharray="12.4 11.555" stroke-dashoffset="0"/>
<rect x="87.9" y="2174" width="152.3" height="152.3" fill="#000"/>
<g clip-path="url(#t30)"><g filter="url(#grain)"><circle cx="162.05" cy="2250.15" r="38" fill="url(#fr)" opacity="0.22"/></g></g>
<circle cx="163.75" cy="2249.25" r="61.0" fill="none" stroke="#fff" stroke-width="3.5" stroke-dasharray="12.4 11.555" stroke-dashoffset="0"/>
<rect x="247.53" y="2174" width="152.3" height="152.3" fill="#000"/>
<g clip-path="url(#t31)"><g filter="url(#grain)"><circle cx="321.68" cy="2251.15" r="24" fill="url(#fb)" opacity="0.6"/></g></g>
<circle cx="323.38" cy="2249.25" r="61.0" fill="none" stroke="#fff" stroke-width="3.5" stroke-dasharray="12.4 11.555" stroke-dashoffset="0"/>
<rect x="407.16" y="2174" width="152.3" height="152.3" fill="#000"/>
<g clip-path="url(#t32)"><g filter="url(#grain)"><circle cx="481.31" cy="2251.35" r="28" fill="url(#fg)" opacity="0.8"/></g></g>
<circle cx="483.01" cy="2249.25" r="61.0" fill="none" stroke="#fff" stroke-width="3.5" stroke-dasharray="12.4 11.555" stroke-dashoffset="0"/>
<rect x="566.79" y="2174" width="152.3" height="152.3" fill="#000"/>
<g clip-path="url(#t33)"><g filter="url(#grain)"><circle cx="640.94" cy="2251.35" r="45" fill="url(#fy)" opacity="0.72"/></g></g>
<circle cx="642.64" cy="2249.25" r="61.0" fill="none" stroke="#fff" stroke-width="3.5" stroke-dasharray="12.4 11.555" stroke-dashoffset="0"/>
<rect x="726.42" y="2174" width="152.3" height="152.3" fill="#000"/>
<g clip-path="url(#t34)"><g filter="url(#grain)"><circle cx="801.27" cy="2250.15" r="26" fill="url(#fc)" opacity="0.62"/></g></g>
<circle cx="802.27" cy="2249.25" r="61.0" fill="none" stroke="#fff" stroke-width="3.5" stroke-dasharray="12.4 11.555" stroke-dashoffset="0"/>
<rect x="886.05" y="2174" width="152.3" height="152.3" fill="#000"/>
<g clip-path="url(#t35)"><g filter="url(#grain)"><circle cx="962.7" cy="2251.15" r="42" fill="url(#fm)" opacity="0.52"/></g></g>
<circle cx="961.9" cy="2249.25" r="61.0" fill="none" stroke="#fff" stroke-width="3.5" stroke-dasharray="12.4 11.555" stroke-dashoffset="0"/>
<rect x="1045.68" y="2174" width="152.3" height="152.3" fill="#000"/>
<g clip-path="url(#t36)"><g><circle cx="1117.33" cy="2247.55" r="54" fill="url(#fo)" opacity="0.62"/><circle cx="1121.13" cy="2253.15" r="9" fill="url(#fo)" opacity="0.6"/><circle cx="1103.83" cy="2259.65" r="5" fill="url(#fo)" opacity="0.35"/></g></g>
<circle cx="1121.53" cy="2249.25" r="61.0" fill="none" stroke="#fff" stroke-width="3.5" stroke-dasharray="12.4 11.555" stroke-dashoffset="0"/>
<rect x="1205.31" y="2174" width="152.3" height="152.3" fill="#000"/>
<g clip-path="url(#t37)"><g filter="url(#grain)"><circle cx="1281.86" cy="2251.15" r="44" fill="url(#fv)" opacity="0.26"/></g></g>
<circle cx="1281.16" cy="2249.25" r="61.0" fill="none" stroke="#fff" stroke-width="3.5" stroke-dasharray="12.4 11.555" stroke-dashoffset="0"/>
<rect x="1291.2" y="2334.4" width="65" height="10" fill="#231815"/>
</g>
<g id="panel-g">
<text x="1400.8" y="1666.7" font-weight="bold" fill="#000">g</text>
<path d="M1701.9 1900.74L1671.73 1913.23L1659.24 1943.4L1671.73 1973.57L1701.9 1986.06L1732.07 1973.57L1744.56 1943.4L1732.07 1913.23ZM1701.9 1858.08L1641.57 1883.07L1616.58 1943.4L1641.57 2003.73L1701.9 2028.72L1762.23 2003.73L1787.22 1943.4L1762.23 1883.07ZM1701.9 1815.42L1611.4 1852.9L1573.92 1943.4L1611.4 2033.9L1701.9 2071.38L1792.4 2033.9L1829.88 1943.4L1792.4 1852.9ZM1701.9 1772.76L1581.24 1822.74L1531.26 1943.4L1581.24 2064.06L1701.9 2114.04L1822.56 2064.06L1872.54 1943.4L1822.56 1822.74ZM1701.9 1730.1L1551.07 1792.57L1488.6 1943.4L1551.07 2094.23L1701.9 2156.7L1852.73 2094.23L1915.2 1943.4L1852.73 1792.57ZM1701.9 1900.74L1701.9 1730.1M1671.73 1913.23L1551.07 1792.57M1659.24 1943.4L1488.6 1943.4M1671.73 1973.57L1551.07 2094.23M1701.9 1986.06L1701.9 2156.7M1732.07 1973.57L1852.73 2094.23M1744.56 1943.4L1915.2 1943.4M1732.07 1913.23L1852.73 1792.57" fill="none" stroke="#bcbcbc" stroke-width="1.5"/>
<path d="M1701.9 1792.72L1666.91 1908.41L1615.9 1943.4L1551.07 2094.23L1701.9 2021.38L1750.65 1992.15L1915.2 1943.4L1751.73 1893.57Z" fill="#e42320" fill-opacity="0.25" stroke="none"/>
<circle cx="1701.9" cy="1792.72" r="6.6" fill="#e42320"/>
<circle cx="1666.91" cy="1908.41" r="6.6" fill="#e42320"/>
<circle cx="1615.9" cy="1943.4" r="6.6" fill="#e42320"/>
<circle cx="1551.07" cy="2094.23" r="6.6" fill="#e42320"/>
<circle cx="1701.9" cy="2021.38" r="6.6" fill="#e42320"/>
<circle cx="1750.65" cy="1992.15" r="6.6" fill="#e42320"/>
<circle cx="1915.2" cy="1943.4" r="6.6" fill="#e42320"/>
<circle cx="1751.73" cy="1893.57" r="6.6" fill="#e42320"/>
<path d="M1701.9 1730.1L1557.95 1799.45L1501.23 1943.4L1617.44 2027.86L1701.9 2052.1L1736.05 1977.55L1814.86 1943.4L1736.29 1909.01Z" fill="#2b72bd" fill-opacity="0.25" stroke="none"/>
<circle cx="1701.9" cy="1730.1" r="6.6" fill="#2b72bd"/>
<circle cx="1557.95" cy="1799.45" r="6.6" fill="#2b72bd"/>
<circle cx="1501.23" cy="1943.4" r="6.6" fill="#2b72bd"/>
<circle cx="1617.44" cy="2027.86" r="6.6" fill="#2b72bd"/>
<circle cx="1701.9" cy="2052.1" r="6.6" fill="#2b72bd"/>
<circle cx="1736.05" cy="1977.55" r="6.6" fill="#2b72bd"/>
<circle cx="1814.86" cy="1943.4" r="6.6" fill="#2b72bd"/>
<circle cx="1736.29" cy="1909.01" r="6.6" fill="#2b72bd"/>
<path d="M1701.9 1808.42L1551.07 1792.57L1488.6 1943.4L1672.94 1972.36L1701.9 2156.7L1852.73 2094.23L1765.89 1943.4L1852.73 1792.57Z" fill="#69b231" fill-opacity="0.25" stroke="none"/>
<circle cx="1701.9" cy="1808.42" r="6.6" fill="#69b231"/>
<circle cx="1551.07" cy="1792.57" r="6.6" fill="#69b231"/>
<circle cx="1488.6" cy="1943.4" r="6.6" fill="#69b231"/>
<circle cx="1672.94" cy="1972.36" r="6.6" fill="#69b231"/>
<circle cx="1701.9" cy="2156.7" r="6.6" fill="#69b231"/>
<circle cx="1852.73" cy="2094.23" r="6.6" fill="#69b231"/>
<circle cx="1765.89" cy="1943.4" r="6.6" fill="#69b231"/>
<circle cx="1852.73" cy="1792.57" r="6.6" fill="#69b231"/>
<path d="M1701.9 1900.74L1671.73 1913.23L1659.24 1943.4L1668.72 1976.58L1701.9 1986.06L1732.07 1973.57L1744.56 1943.4L1732.07 1913.23Z" fill="#8e5ca6" fill-opacity="0.25" stroke="none"/>
<circle cx="1701.9" cy="1900.74" r="6.6" fill="#8e5ca6"/>
<circle cx="1671.73" cy="1913.23" r="6.6" fill="#8e5ca6"/>
<circle cx="1659.24" cy="1943.4" r="6.6" fill="#8e5ca6"/>
<circle cx="1668.72" cy="1976.58" r="6.6" fill="#8e5ca6"/>
<circle cx="1701.9" cy="1986.06" r="6.6" fill="#8e5ca6"/>
<circle cx="1732.07" cy="1973.57" r="6.6" fill="#8e5ca6"/>
<circle cx="1744.56" cy="1943.4" r="6.6" fill="#8e5ca6"/>
<circle cx="1732.07" cy="1913.23" r="6.6" fill="#8e5ca6"/>
<text x="1688" y="1697.1" text-anchor="middle" fill="#000">CA 15-3</text>
<text x="1688.7" y="2209.7" text-anchor="middle" fill="#000">EGFR</text>
<text x="1506.7" y="1772.3" text-anchor="middle" fill="#000">CA 125</text>
<text x="1885.2" y="1772.3" text-anchor="middle" fill="#000">VEGF</text>
<text x="1432.7" y="1953.3" text-anchor="middle" fill="#000">CEA</text>
<text x="1968.3" y="1950.7" text-anchor="middle" fill="#000">Ep-</text>
<text x="1968.3" y="1983.7" text-anchor="middle" fill="#000">CAM</text>
<text x="1507" y="2134.7" text-anchor="middle" fill="#000">HER2</text>
<text x="1885.6" y="2134.7" text-anchor="middle" fill="#000">PSMA</text>
<text x="1682.5" y="1733.6" text-anchor="end" fill="#000">1.0</text>
<text x="1682.5" y="1818.8" text-anchor="end" fill="#000">0.5</text>
<text x="1682.5" y="1906" text-anchor="end" fill="#000">0.0</text>
<rect x="1455.4" y="2240.2" width="45.8" height="28.4" fill="#e42320"/>
<text x="1529.2" y="2266.8">SK-BR-3</text>
<rect x="1759.2" y="2240.2" width="45.6" height="28.4" fill="#2b72bd"/>
<text x="1829.5" y="2266.8">BT-474</text>
<rect x="1455.4" y="2290.1" width="45.8" height="28.6" fill="#69b231"/>
<text x="1529.2" y="2316.8">MDA-MB-231</text>
<rect x="1759.2" y="2290.1" width="45.6" height="28.6" fill="#8e5ca6"/>
<text x="1829.5" y="2316.8">MCF-10A</text>
</g>
</g>
</svg>
</body>
</html>
